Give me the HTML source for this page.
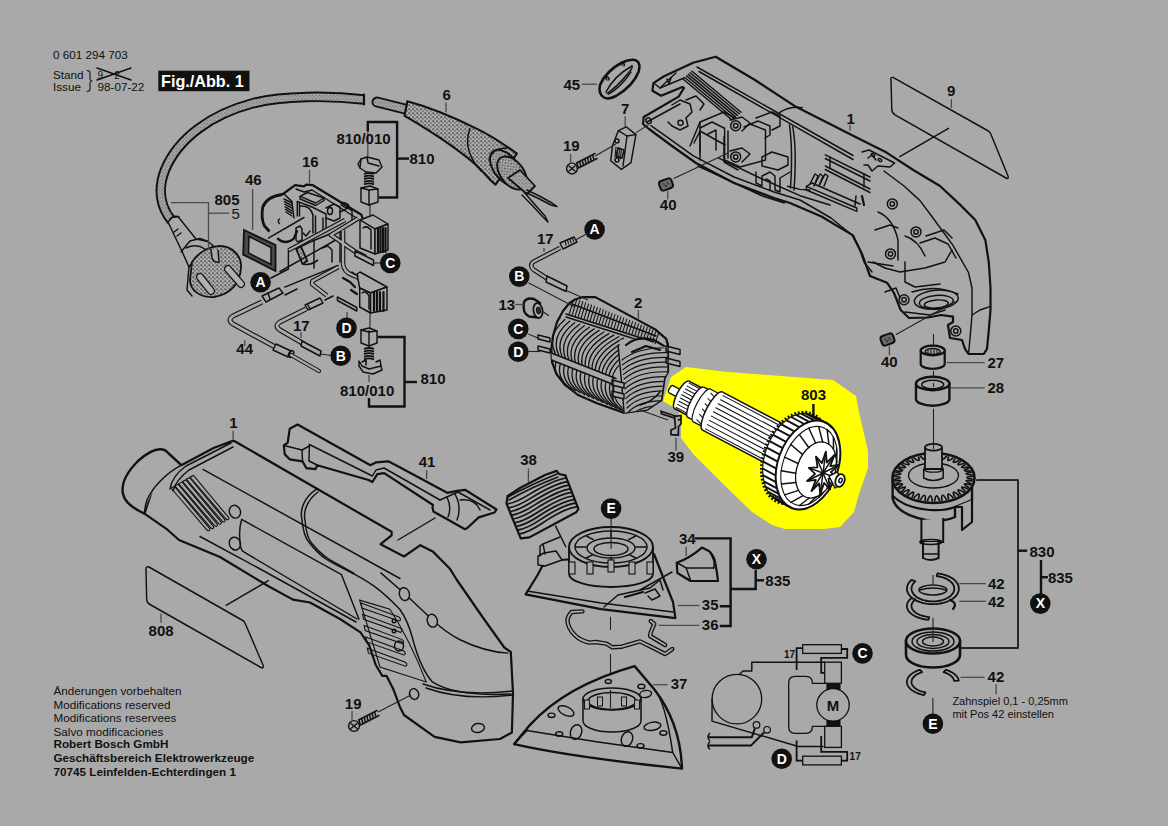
<!DOCTYPE html>
<html><head><meta charset="utf-8">
<style>
html,body{margin:0;padding:0;background:#a9a9a9;}
body{width:1168px;height:826px;overflow:hidden;}
svg{display:block;}
text{font-family:"Liberation Sans",sans-serif;fill:#111;}
.b{font-weight:bold;font-size:15px;}
.r{font-size:11.7px;}
.rb{font-size:11.7px;font-weight:bold;}
.o{fill:none;stroke:#111;stroke-width:1.45;stroke-linejoin:round;stroke-linecap:round;}
.th{fill:none;stroke:#111;stroke-width:1.05;stroke-linejoin:round;stroke-linecap:round;}
.t{fill:none;stroke:#111;stroke-width:2.2;stroke-linejoin:round;stroke-linecap:round;}
.f{fill:#a9a9a9;stroke:#111;stroke-width:1.45;stroke-linejoin:round;}
.ft{fill:#a9a9a9;stroke:#111;stroke-width:2.2;stroke-linejoin:round;}
.l{fill:none;stroke:#222;stroke-width:1.1;}
.lg{fill:none;stroke:#4a4a4a;stroke-width:1.3;}
.br{fill:none;stroke:#111;stroke-width:2.4;}
.cw{font-weight:bold;font-size:14px;fill:#fff;text-anchor:middle;}
</style></head>
<body>
<svg width="1168" height="826" viewBox="0 0 1168 826">
<defs>
<pattern id="dots" width="3.5" height="3.5" patternUnits="userSpaceOnUse"><rect width="3.5" height="3.5" fill="#a9a9a9"/><rect x="0.5" y="0.5" width="1" height="1" fill="#333"/><rect x="2.2" y="2.1" width="0.9" height="0.9" fill="#444"/></pattern>
<pattern id="dots2" width="4" height="4" patternUnits="userSpaceOnUse"><rect width="4" height="4" fill="#a9a9a9"/><rect x="0.5" y="0.5" width="1.3" height="1.3" fill="#222"/><rect x="2.5" y="2.4" width="1.1" height="1.1" fill="#333"/></pattern>
</defs>
<rect width="1168" height="826" fill="#a9a9a9"/>
<polygon class="x" points="686.0,367.0 728.0,372.0 781.0,376.0 833.0,380.0 856.0,396.0 859.0,412.0 868.0,451.0 868.0,468.0 859.0,494.0 854.0,512.0 840.0,527.0 824.0,529.0 785.0,529.0 772.0,525.0 752.0,512.0 720.0,481.0 694.0,455.0 681.0,438.0 681.0,420.0 678.0,410.0 663.0,401.0 671.0,377.0" fill="#ffff00" stroke="none"/>
<text class="r" x="53" y="58.5" >0 601 294 703</text>
<text class="r" x="53" y="78.6" >Stand</text>
<text class="r" x="53" y="91" >Issue</text>
<text class="r" x="97.5" y="91" >98-07-22</text>
<path class="o" d="M87,70.5 Q90,70.5 90,73 L90,79 Q90,80.5 92,81 Q90,81.5 90,83 L90,89 Q90,91.5 87,91.5" style="stroke-width:1.1"/>
<text class="r" x="97.5" y="79" style="font-size:10px">9&#160;&#160;&#160;&#160;2</text>
<line class="o" x1="97" y1="68" x2="131" y2="80"/>
<line class="o" x1="97" y1="80" x2="131" y2="68"/>
<rect x="158.3" y="70.7" width="91.2" height="20.5" fill="#111"/>
<text class="b" x="161" y="86.5" style="font-size:16.2px;fill:#fff">Fig./Abb. 1</text>
<text class="r" x="53.5" y="695" >Änderungen vorbehalten</text>
<text class="r" x="53.5" y="708.7" >Modifications reserved</text>
<text class="r" x="53.5" y="722.4" >Modifications reservees</text>
<text class="r" x="53.5" y="736.3" >Salvo modificaciones</text>
<text class="rb" x="53.5" y="748.2" >Robert Bosch GmbH</text>
<text class="rb" x="53.5" y="761.9" >Geschäftsbereich Elektrowerkzeuge</text>
<text class="rb" x="53.5" y="775.5" >70745 Leinfelden-Echterdingen 1</text>
<path class="x" d="M364,99.5 C330,95.5 282,95.5 252,103.5 C212,114 178,138 165,170 C157,190 161,208 172,221" fill="none" stroke="#111" stroke-width="10.5" stroke-linecap="butt"/>
<path class="x" d="M364,99.5 C330,95.5 282,95.5 252,103.5 C212,114 178,138 165,170 C157,190 161,208 172,221" fill="none" stroke="url(#dots)" stroke-width="6.6" stroke-linecap="butt"/>
<line class="t" x1="364" y1="94.5" x2="364" y2="104.5"/>
<path class="x" d="M377,102 L405,109" fill="none" stroke="#111" stroke-width="11" stroke-linecap="round"/>
<path class="x" d="M377,102 L405,109" fill="none" stroke="url(#dots)" stroke-width="7" stroke-linecap="round"/>
<path d="M407.4,101.3 C425,106 447,114 476,128.4 C488,134 505,145 516.9,153.6 L495.6,184.6 C490,181 484,172 476.2,165.2 C465,155 452,146 437.5,136.2 C425,128 414,121 404.5,115.8 Z" fill="url(#dots2)" stroke="#111" stroke-width="2" stroke-linejoin="round"/>
<line class="o" x1="407.4" y1="101.3" x2="404.5" y2="115.8"/>
<path class="o" d="M470,128.5 Q462,150 481,171" />
<ellipse class="x" cx="506" cy="168" rx="12" ry="21" transform="rotate(-38 506 168)" fill="url(#dots2)" stroke="#111" stroke-width="2"/>
<path class="o" d="M489,160 Q492,148 507,148" />
<ellipse class="x" cx="512" cy="173" rx="11.5" ry="19" transform="rotate(-38 512 173)" fill="url(#dots2)" stroke="#111" stroke-width="2"/>
<path d="M508,178 L520,170 L535,186 L527,194 Z" fill="url(#dots)" stroke="#111" stroke-width="1.8" stroke-linejoin="round"/>
<path class="o" d="M527,190 Q540,196 552,203 L557,206.5 L551,205 Q538,198 527,193" />
<path class="o" d="M524,192 Q535,205 545,216 L548,222 L543,217 Q532,205 522,195" />
<line class="lg" x1="446" y1="102.5" x2="446" y2="112.5"/>
<text class="b" x="442.5" y="99.7" >6</text>
<polygon class="f" points="172.0,217.5 178.0,216.5 196.0,239.0 208.0,241.5 213.5,246.0 192.5,262.0 189.0,267.0 182.5,252.5 168.0,222.0" />
<path class="o" d="M170,219 Q174,215 179,217" />
<line class="o" x1="174" y1="232" x2="178" y2="229"/>
<line class="o" x1="177" y1="236" x2="181" y2="233"/>
<path class="o" d="M181,252 L190,241 L200,238.5 L208,241.5" />
<path class="o" d="M186,248 Q196,243 205,249" />
<path class="x" d="M192,262 C200,250 212,246 220,246 C232,246 242,256 241,268 C240,282 232,294 214,297 C200,298 190,290 190,280 Z" fill="url(#dots2)" stroke="#111" stroke-width="1.8"/>
<path class="o" d="M189,266 L187,290 L192,296" />
<line x1="200" y1="277" x2="211" y2="291" stroke="#111" stroke-width="8" stroke-linecap="round"/>
<line x1="200" y1="277" x2="211" y2="291" stroke="#b0b0b0" stroke-width="5.6" stroke-linecap="round"/>
<line x1="228" y1="269" x2="241" y2="284" stroke="#111" stroke-width="8" stroke-linecap="round"/>
<line x1="228" y1="269" x2="241" y2="284" stroke="#b0b0b0" stroke-width="5.6" stroke-linecap="round"/>
<path class="f" d="M211,249 L212,258 Q214,263 219,262 L218,250" />
<polyline class="lg" points="171.0,202.6 208.5,202.6 208.5,250.0" />
<line class="lg" x1="208.5" y1="213.2" x2="229" y2="213.2"/>
<text class="b" x="214.5" y="205.3" >805</text>
<text class="b" x="231.5" y="219" style="font-weight:normal">5</text>
<polygon class="x" points="244.0,230.0 275.5,245.0 275.5,271.0 243.2,254.6" fill="#4a4a4a" stroke="#111" stroke-width="1.8"/>
<polygon class="x" points="249.0,236.5 271.0,247.5 271.0,264.5 248.5,253.0" fill="#a9a9a9" stroke="#111" stroke-width="1.5"/>
<line class="lg" x1="252.6" y1="189" x2="252.6" y2="230"/>
<text class="b" x="245" y="185" >46</text>
<path d="M285,192.5 L295.1,185.2 L304,186.4 L306.2,184.7 L312.9,185.2 L361.4,214.8 L362.5,218 L356,252 L340,262 L314,268 L300,262 L296,246 L280,236 L269.5,231.5 C264,222 262,214 262.8,207 C264,201 270,196 280.6,194.7 Z" fill="#a9a9a9" stroke="none"/>
<path d="M282,194.5 C272,196 265,201 262.8,207 C261.5,214 262,221 264.5,226 L269.5,231.5" fill="none" stroke="#111" stroke-width="2.8"/>
<path class="o" d="M284,194 L291.8,201.4 L294,218" />
<line class="o" x1="284.0" y1="199.0" x2="292" y2="203.0"/>
<line class="o" x1="284.4" y1="201.6" x2="292" y2="205.6"/>
<line class="o" x1="284.8" y1="204.2" x2="292" y2="208.2"/>
<line class="o" x1="285.2" y1="206.8" x2="292" y2="210.8"/>
<line class="o" x1="285.6" y1="209.4" x2="292" y2="213.4"/>
<line class="o" x1="286.0" y1="212.0" x2="292" y2="216.0"/>
<path class="o" d="M279.5,219 Q277,221 279.5,223.5" />
<path class="t" d="M282,194.5 L285,192.5 L295.1,185.2 L304,186.4 L306.2,184.7 L312.9,185.2 L361.4,214.8 L362.5,218" />
<path class="o" d="M296,189 L304,192 L312,190 L358,219" />
<polygon class="f" points="300.1,196.4 307.3,192.5 324.0,198.0 315.7,203.0" />
<polyline class="o" points="300.1,196.4 300.1,199.0 315.7,205.5 324.0,200.5 324.0,198.0" />
<polyline class="o" points="297.3,201.4 297.3,216.0" />
<polyline class="o" points="299.5,202.5 299.5,216.0" />
<polyline class="o" points="297.3,201.4 312.0,207.0 326.0,214.0 326.0,232.0" />
<polyline class="o" points="312.9,214.8 312.9,233.0" />
<polyline class="o" points="315.5,216.0 315.5,233.0" />
<polyline class="o" points="323.0,218.0 323.0,232.0" />
<path class="o" d="M300,206 Q310,205 312.9,214.8" />
<polyline class="o" points="326.0,208.0 334.0,204.0 340.0,207.0 340.0,218.0 334.0,221.0 326.0,218.0" />
<ellipse class="o" cx="330" cy="211" rx="2.5" ry="3.5" transform="rotate(0 330 211)" />
<polyline class="o" points="340.0,212.0 348.0,208.0 352.0,211.0 352.0,224.0" />
<ellipse class="o" cx="345" cy="205" rx="4" ry="2" transform="rotate(25 345 205)" />
<line class="o" x1="268.4" y1="238.1" x2="304" y2="217.5"/>
<path d="M277.3,238.1 Q281,242 286.2,242 Q292,241 294,238.1 L297.3,230.3" fill="none" stroke="#111" stroke-width="2.4"/>
<polyline class="o" points="296.0,228.0 300.0,226.0 302.0,229.0 302.0,240.0 298.0,242.0 296.0,240.0 296.0,228.0" />
<polyline class="o" points="303.0,233.0 306.0,236.0 310.0,231.0" />
<polyline class="o" points="302.0,246.0 310.0,242.0 330.0,234.0 340.0,232.0 340.0,262.0" />
<polyline class="o" points="314.0,240.0 314.0,268.0" />
<polyline class="o" points="322.0,248.0 328.0,246.0 332.0,250.0 332.0,262.0" />
<polygon class="x" points="296.2,249.0 301.0,246.5 307.3,261.0 302.5,264.0" fill="url(#dots2)" stroke="#111" stroke-width="1.8"/>
<path d="M303,264 Q310,266 318,260" fill="none" stroke="#111" stroke-width="1.6"/>
<path d="M345,220 L288.4,250.4" fill="none" stroke="#111" stroke-width="4.4"/>
<path d="M345,220 L288.4,250.4" fill="none" stroke="#a9a9a9" stroke-width="2.2"/>
<polyline class="o" points="288.4,250.4 288.4,269.0 271.0,278.0" />
<line class="o" x1="280" y1="271.5" x2="335.7" y2="240"/>
<line class="o" x1="284.8" y1="287.2" x2="338.1" y2="265.4"/>
<path d="M358,218.5 L331,235 L355,251.5 L366,257" fill="none" stroke="#111" stroke-width="4.6" stroke-linejoin="round"/>
<path d="M343,230 L343,264 Q344,272 352,275 L359,278" fill="none" stroke="#111" stroke-width="4.6"/>
<path d="M338.4,267 L312.5,281 L312,284 L326.8,295.5" fill="none" stroke="#111" stroke-width="4.6" stroke-linejoin="round"/>
<path d="M358,218.5 L331,235 L355,251.5 L366,257" fill="none" stroke="#a9a9a9" stroke-width="2.4" stroke-linejoin="round"/>
<path d="M343,230 L343,264 Q344,272 352,275 L359,278" fill="none" stroke="#a9a9a9" stroke-width="2.4"/>
<path d="M338.4,267 L312.5,281 L312,284 L326.8,295.5" fill="none" stroke="#a9a9a9" stroke-width="2.4" stroke-linejoin="round"/>
<polygon class="f" points="355.0,251.0 373.5,260.0 373.5,265.5 355.0,256.0" />
<line class="l" x1="373.5" y1="263" x2="380" y2="263"/>
<polygon class="f" points="337.4,297.0 356.8,307.5 356.8,311.0 337.4,300.5" />
<line class="lg" x1="347" y1="312" x2="347" y2="318"/>
<polygon class="f" points="360.0,220.0 373.0,215.0 388.0,224.0 375.0,229.0" />
<polygon class="f" points="360.0,220.0 375.0,229.0 375.0,254.0 360.0,248.0" />
<polygon class="f" points="375.0,229.0 388.0,224.0 388.0,250.0 375.0,254.0" />
<line class="t" x1="378" y1="228" x2="378" y2="252"/>
<line class="t" x1="380.5" y1="228" x2="380.5" y2="252"/>
<line class="t" x1="383" y1="228" x2="383" y2="252"/>
<line class="t" x1="385.5" y1="228" x2="385.5" y2="252"/>
<path class="o" d="M363,228 Q367,225 371,230 L371,249" />
<polygon class="f" points="357.0,274.0 360.0,272.0 387.0,287.0 370.5,293.0 359.7,288.0" />
<polygon class="f" points="359.7,288.0 370.5,293.0 370.5,313.0 359.7,307.0" />
<polygon class="f" points="370.5,293.0 387.0,287.0 387.0,310.0 370.5,313.0" />
<line class="t" x1="374" y1="292" x2="374" y2="311"/>
<line class="t" x1="377" y1="292" x2="377" y2="311"/>
<line class="t" x1="380" y1="292" x2="380" y2="311"/>
<line class="t" x1="383.5" y1="292" x2="383.5" y2="311"/>
<path class="o" d="M362,293 Q366,290 369,296 L369,309" />
<polyline class="t" points="343.0,278.0 350.0,282.0 355.0,287.0" />
<polyline class="o" points="352.0,272.0 358.0,276.0" />
<line class="t" x1="351" y1="290" x2="357" y2="294"/>
<path class="f" d="M358,164 L361,159 L367,157 L379,160 L382,167 L376,173 L366,172 L360,168 Z" />
<polyline class="o" points="361.0,159.0 360.0,168.0" />
<polyline class="o" points="367.0,157.0 368.0,163.0 379.0,166.0" />
<path class="x" d="M364,174.0 Q369,172.0 374,174.0" fill="none" stroke="#111" stroke-width="1.8"/>
<path class="x" d="M364,176.6 Q369,174.6 374,176.6" fill="none" stroke="#111" stroke-width="1.8"/>
<path class="x" d="M364,179.2 Q369,177.2 374,179.2" fill="none" stroke="#111" stroke-width="1.8"/>
<path class="x" d="M364,181.8 Q369,179.8 374,181.8" fill="none" stroke="#111" stroke-width="1.8"/>
<path class="x" d="M364,184.4 Q369,182.4 374,184.4" fill="none" stroke="#111" stroke-width="1.8"/>
<polygon class="f" points="361.0,188.0 370.0,186.0 378.0,189.0 378.0,202.0 369.0,205.0 361.0,202.0" />
<line class="o" x1="369" y1="190" x2="369" y2="205"/>
<polyline class="o" points="361.0,188.0 369.0,190.0 378.0,189.0" />
<line class="l" x1="370" y1="205" x2="370" y2="217"/>
<line class="lg" x1="367.8" y1="131.5" x2="367.8" y2="156"/>
<polyline class="br" points="367.8,131.5 367.8,122.0 397.1,122.0 397.1,197.5 379.0,197.5" />
<line class="br" x1="397.1" y1="158.6" x2="409" y2="158.6"/>
<text class="b" x="336.4" y="144.3" >810/010</text>
<text class="b" x="409.5" y="164.4" >810</text>
<line class="lg" x1="309.5" y1="170" x2="309.5" y2="183.5"/>
<text class="b" x="302" y="167.2" >16</text>
<polygon class="f" points="361.0,330.0 369.0,328.0 377.0,331.0 377.0,343.0 369.0,346.0 361.0,343.0" />
<line class="o" x1="369" y1="331" x2="369" y2="346"/>
<polyline class="o" points="361.0,330.0 369.0,332.0 377.0,331.0" />
<line class="l" x1="370" y1="313" x2="370" y2="328"/>
<path class="x" d="M364,349.0 Q369,347.0 374,349.0" fill="none" stroke="#111" stroke-width="1.8"/>
<path class="x" d="M364,351.6 Q369,349.6 374,351.6" fill="none" stroke="#111" stroke-width="1.8"/>
<path class="x" d="M364,354.2 Q369,352.2 374,354.2" fill="none" stroke="#111" stroke-width="1.8"/>
<path class="x" d="M364,356.8 Q369,354.8 374,356.8" fill="none" stroke="#111" stroke-width="1.8"/>
<path class="x" d="M364,359.4 Q369,357.4 374,359.4" fill="none" stroke="#111" stroke-width="1.8"/>
<path class="f" d="M359,361 L362,366 L369,369 L381,366 L382,370 L373,374 L363,372 L359,366 Z" />
<polyline class="o" points="362.0,362.0 366.0,360.0 366.0,365.0" />
<polyline class="o" points="376.0,362.0 380.0,360.0 381.0,366.0" />
<line class="lg" x1="369" y1="375" x2="369" y2="382"/>
<polyline class="br" points="378.0,337.0 404.5,337.0 404.5,406.5 369.0,406.5 369.0,398.0" />
<line class="br" x1="404.5" y1="382" x2="417" y2="382"/>
<text class="b" x="420.5" y="383.5" >810</text>
<text class="b" x="340" y="396.2" >810/010</text>
<path d="M262,302 L233,316 Q227,320 233,324 L277,348" fill="none" stroke="#111" stroke-width="5" stroke-linejoin="round"/>
<path d="M306,309 L280,322 Q274,326 280,330 L304,344" fill="none" stroke="#111" stroke-width="5" stroke-linejoin="round"/>
<path d="M262,302 L233,316 Q227,320 233,324 L277,348" fill="none" stroke="#a9a9a9" stroke-width="2.8" stroke-linejoin="round"/>
<path d="M306,309 L280,322 Q274,326 280,330 L304,344" fill="none" stroke="#a9a9a9" stroke-width="2.8" stroke-linejoin="round"/>
<polygon class="f" points="262.0,296.0 279.0,288.0 283.0,293.0 266.0,302.0" />
<line class="o" x1="268" y1="293" x2="270" y2="299"/>
<polygon class="f" points="276.0,344.0 291.0,351.0 288.0,357.0 273.0,350.0" />
<ellipse class="o" cx="291" cy="354" rx="2.2" ry="3.6" transform="rotate(30 291 354)" />
<path d="M291,355 L319,371" fill="none" stroke="#111" stroke-width="4.2" stroke-linecap="round"/><path d="M291,355 L319,371" fill="none" stroke="#a9a9a9" stroke-width="2.2" stroke-linecap="round"/>
<polygon class="f" points="305.0,305.0 320.0,298.0 323.0,303.0 308.0,310.0" />
<line class="o" x1="308" y1="305" x2="310" y2="309"/>
<polygon class="f" points="302.0,341.0 321.0,351.0 320.0,356.0 301.0,346.0" />
<line class="l" x1="321" y1="354" x2="331" y2="355.5"/>
<line class="lg" x1="244.8" y1="340" x2="244.8" y2="346"/>
<text class="b" x="236.3" y="354" >44</text>
<line class="lg" x1="301" y1="332" x2="301" y2="338"/>
<text class="b" x="293" y="330.8" >17</text>
<line class="o" x1="285" y1="295" x2="297" y2="289"/>
<line class="o" x1="325" y1="300" x2="333" y2="296"/>
<circle cx="260.6" cy="282.3" r="10.3" fill="#111"/>
<text class="cw" x="260.6" y="287.1">A</text>
<circle cx="390.3" cy="263" r="10.3" fill="#111"/>
<text class="cw" x="390.3" y="267.8">C</text>
<circle cx="346.5" cy="327.9" r="10.3" fill="#111"/>
<text class="cw" x="346.5" y="332.7">D</text>
<circle cx="340.7" cy="355.7" r="10.3" fill="#111"/>
<text class="cw" x="340.7" y="360.5">B</text>
<polygon class="ft" points="653.4,83.1 664.0,76.3 678.6,69.5 693.1,62.7 715.7,56.7 755.0,80.0 796.0,106.8 860.0,139.3 886.6,152.6 913.3,170.0 940.0,186.0 960.0,204.6 975.3,220.0 985.4,240.3 988.8,262.4 990.5,287.8 990.5,309.8 988.8,330.2 987.0,348.8 983.7,354.0 968.5,354.0 965.0,348.8 962.0,340.0 950.0,338.0 948.0,325.0 953.0,322.0 953.0,316.6 941.0,315.0 928.0,317.5 909.0,318.0 900.7,310.0 894.0,293.0 887.0,282.7 870.0,276.0 862.0,254.0 853.0,235.4 821.5,216.5 790.0,203.0 774.0,198.0 734.0,183.0 696.0,163.0 672.0,146.0 649.0,129.0 643.0,124.0 643.7,117.0 678.6,96.6 684.0,88.0 682.4,87.0 661.1,95.7 652.4,90.8" />
<polyline class="o" points="697.0,67.0 853.0,155.5" />
<polyline class="o" points="884.0,171.0 904.0,186.0 920.0,200.6 933.0,218.0 953.0,245.4 968.5,272.5 972.0,288.0 972.0,315.0 970.0,338.6 968.5,354.0" />
<polyline class="o" points="972.0,315.0 980.0,310.0 990.5,306.4" />
<polyline class="o" points="699.0,71.5 853.0,159.5" />
<polyline class="o" points="862.0,152.0 869.0,150.0 894.6,163.0 890.0,167.0 878.0,166.0 872.0,171.0 868.0,165.0 864.0,165.0" />
<polyline class="o" points="868.0,158.0 872.0,155.0 876.0,160.0" />
<ellipse class="o" cx="873" cy="155" rx="2" ry="1.2" transform="rotate(30 873 155)" />
<ellipse class="o" cx="880" cy="160" rx="2" ry="1.2" transform="rotate(30 880 160)" />
<polyline class="o" points="651.0,125.7 693.4,155.8 734.0,177.0 774.0,192.0 800.0,200.0 831.0,218.0 852.0,235.0 860.0,250.0 864.0,262.0 872.0,272.0" />
<path class="o" d="M779.6,112.4 Q790,106 802.3,107.6" />
<path class="o" d="M792.7,126.7 Q797,150 794,190" />
<path class="o" d="M789.5,125 Q793,150 790.5,188" />
<polyline class="o" points="655.0,84.0 660.0,88.0 684.0,78.0" />
<path class="o" d="M660,88 Q668,80 676,73" />
<polyline class="o" points="667.0,79.0 669.0,84.0 671.0,78.0" />
<polyline class="o" points="647.0,122.0 680.0,104.0" />
<ellipse class="o" cx="648.6" cy="120.8" rx="2.5" ry="3" transform="rotate(-30 648.6 120.8)" />
<polyline class="o" points="672.0,105.0 680.0,100.0 690.0,104.0 692.0,112.0 686.0,118.0 688.0,126.0 680.0,130.0 672.0,126.0 668.0,122.0" />
<ellipse class="o" cx="680.5" cy="122.8" rx="2.6" ry="2.6" transform="rotate(0 680.5 122.8)" />
<polyline class="o" points="686.0,100.0 696.0,96.0 704.0,104.0 700.0,110.0" />
<line class="o" x1="683.0" y1="79.0" x2="732.0" y2="120.0"/>
<line class="o" x1="684.8" y1="77.44" x2="733.8" y2="118.44"/>
<line class="o" x1="686.6" y1="75.88" x2="735.6" y2="116.88"/>
<line class="o" x1="688.4" y1="74.32" x2="737.4" y2="115.32"/>
<line class="o" x1="690.2" y1="72.76" x2="739.2" y2="113.76"/>
<line class="o" x1="692.0" y1="71.2" x2="741.0" y2="112.2"/>
<ellipse class="f" cx="735.7" cy="125.7" rx="5" ry="5" transform="rotate(0 735.7 125.7)" />
<ellipse class="o" cx="735.7" cy="125.7" rx="2.2" ry="2.2" transform="rotate(0 735.7 125.7)" />
<ellipse class="f" cx="735.7" cy="156.9" rx="5" ry="5" transform="rotate(0 735.7 156.9)" />
<ellipse class="o" cx="735.7" cy="156.9" rx="2.2" ry="2.2" transform="rotate(0 735.7 156.9)" />
<ellipse class="f" cx="892.3" cy="203.9" rx="5" ry="5" transform="rotate(0 892.3 203.9)" />
<ellipse class="o" cx="892.3" cy="203.9" rx="2.2" ry="2.2" transform="rotate(0 892.3 203.9)" />
<ellipse class="f" cx="916" cy="231.9" rx="5" ry="5" transform="rotate(0 916 231.9)" />
<ellipse class="o" cx="916" cy="231.9" rx="2.2" ry="2.2" transform="rotate(0 916 231.9)" />
<ellipse class="f" cx="890.5" cy="253.9" rx="5" ry="5" transform="rotate(0 890.5 253.9)" />
<ellipse class="o" cx="890.5" cy="253.9" rx="2.2" ry="2.2" transform="rotate(0 890.5 253.9)" />
<ellipse class="f" cx="904" cy="299.7" rx="5" ry="5" transform="rotate(0 904 299.7)" />
<ellipse class="o" cx="904" cy="299.7" rx="2.2" ry="2.2" transform="rotate(0 904 299.7)" />
<ellipse class="f" cx="955.8" cy="331" rx="5" ry="5" transform="rotate(0 955.8 331)" />
<ellipse class="o" cx="955.8" cy="331" rx="2.2" ry="2.2" transform="rotate(0 955.8 331)" />
<polyline class="o" points="730.0,120.0 742.0,117.0 750.0,123.0 742.0,131.0" />
<polyline class="o" points="730.0,151.0 742.0,148.0 750.0,154.0 742.0,162.0" />
<polyline class="o" points="690.0,146.0 700.0,122.0 724.0,112.0 735.0,118.0" />
<polyline class="o" points="700.0,122.0 700.0,153.0" />
<polyline class="o" points="724.0,137.0 724.0,162.0 738.0,170.0" />
<polyline class="o" points="708.0,134.0 716.0,130.0 716.0,150.0" />
<polyline class="o" points="724.6,128.0 724.6,160.0 740.0,167.0 765.5,160.0 765.5,130.0 750.0,124.0" />
<polyline class="o" points="728.0,131.0 728.0,158.0" />
<polyline class="o" points="744.0,127.0 758.0,121.0 770.0,126.0 770.0,135.0 765.0,138.0" />
<polyline class="o" points="756.0,118.0 772.0,112.0 780.0,116.0 780.0,126.0 772.0,130.0" />
<polyline class="o" points="762.0,157.0 772.0,152.0 788.0,157.0 788.0,165.0 778.0,170.0 762.0,166.0 762.0,157.0" />
<polyline class="o" points="756.0,172.0 756.0,183.0 762.0,186.0 762.0,176.0 770.0,172.0 775.0,176.0 775.0,190.0 780.0,192.0 780.0,178.0 790.0,172.0" />
<polyline class="o" points="766.0,179.0 770.0,181.0 770.0,190.0" />
<polyline class="o" points="700.0,128.0 712.0,122.0 724.0,128.0" />
<polyline class="o" points="694.0,143.0 700.0,131.0 700.0,160.0" />
<polyline class="o" points="700.0,131.0 725.0,145.0" />
<polyline class="o" points="718.3,157.9 760.0,178.0 800.0,195.7 830.0,205.0" />
<polyline class="o" points="697.9,166.0 762.4,196.0 784.4,203.0" />
<polyline class="o" points="787.5,186.3 800.0,189.4 810.0,190.0" />
<polyline class="o" points="825.3,154.8 870.0,177.0" />
<polyline class="o" points="825.3,158.5 870.0,181.0" />
<polyline class="o" points="825.3,166.0 870.0,189.0" />
<polyline class="o" points="825.3,169.5 870.0,192.5" />
<line class="o" x1="830" y1="157" x2="830" y2="168"/>
<line class="o" x1="864" y1="174" x2="864" y2="187"/>
<polyline class="o" points="806.4,186.3 856.8,208.0 856.8,211.4 806.4,190.0" />
<polyline class="o" points="806.4,190.0 806.4,186.3 812.0,183.0 860.0,204.0" />
<polyline class="o" points="810.0,184.0 815.0,174.0 818.0,176.0 814.0,186.0" />
<polyline class="o" points="815.0,184.0 820.0,174.0 823.0,176.0 819.0,186.0" />
<polyline class="o" points="820.0,184.0 825.0,174.0 828.0,176.0 824.0,186.0" />
<path class="t" d="M862,196 L864,205" />
<path class="o" d="M856,196 L855,206" />
<path class="o" d="M878,212 Q893,218 898,240 L898,260" />
<path class="o" d="M905,236 Q918,240 925,256" />
<polyline class="o" points="873.0,262.0 885.0,268.0 900.0,272.0 925.0,268.0 945.0,262.0 952.0,250.0" />
<polyline class="o" points="905.0,262.0 905.0,282.0 915.0,287.0 940.0,284.0" />
<polyline class="o" points="920.0,243.0 935.0,238.0 948.0,244.0 956.0,258.0" />
<polyline class="o" points="926.0,236.0 944.0,230.0 952.0,238.0" />
<polyline class="o" points="875.0,230.0 890.0,225.0 898.0,228.0" />
<path class="o" d="M912,292 Q935,284 958,294" />
<ellipse class="o" cx="936.3" cy="299.7" rx="22" ry="9.5" transform="rotate(-5 936.3 299.7)" />
<ellipse class="o" cx="936.3" cy="302" rx="17" ry="6.5" transform="rotate(-5 936.3 302)" />
<ellipse class="o" cx="936.3" cy="304" rx="12" ry="4" transform="rotate(-5 936.3 304)" />
<polyline class="o" points="905.0,312.0 930.0,315.0 945.0,310.0" />
<polyline class="o" points="885.0,292.0 896.0,288.0 900.0,298.0" />
<line class="o" x1="868" y1="262" x2="893" y2="266"/>
<line class="lg" x1="850" y1="124.7" x2="850" y2="130.8"/>
<text class="b" x="846.5" y="123.6" >1</text>
<path class="o" d="M893,77.4 Q890,77 891,80 L891.8,110 Q892,113 895,114.8 L1006,178 Q1009,179.5 1008,176 L991,134.5 Q990,131.5 987.5,130.5 Z" />
<line class="o" x1="899.8" y1="156.7" x2="948.5" y2="128.3"/>
<line class="lg" x1="951.4" y1="99.2" x2="951.4" y2="108"/>
<text class="b" x="947" y="95.6" >9</text>
<path d="M604,97.5 Q598,94 600,85 Q606,71 622,62.5 Q632,58 637,61 Q641,64 638.5,72 Q633,86 616,96 Q608,100 604,97.5 Z" fill="#a9a9a9" stroke="#111" stroke-width="2.6" stroke-linejoin="round"/>
<path class="o" d="M606,92 Q614,76 632,66" />
<path class="o" d="M607,93.5 Q618,86 630,71 Q633,67 632,66" />
<path class="o" d="M608.5,94 Q620,88 631,72" />
<path class="o" d="M607,80 Q605,78 607,77 Q609,77 609,80" />
<path class="o" d="M622,65 Q621,63 623,63 Q625,64 624,66" />
<line class="lg" x1="581.6" y1="84.2" x2="597" y2="84.2"/>
<text class="b" x="563.5" y="90.4" >45</text>
<polygon class="f" points="612.6,145.2 618.4,130.7 626.2,126.8 635.9,134.6 631.0,162.7 621.4,169.4 610.7,160.7" />
<polyline class="o" points="618.4,130.7 627.0,136.0 635.9,134.6" />
<polyline class="o" points="627.0,136.0 623.0,166.0" />
<ellipse class="o" cx="617" cy="141" rx="2" ry="2" transform="rotate(0 617 141)" />
<ellipse class="o" cx="617" cy="160" rx="2" ry="2" transform="rotate(0 617 160)" />
<path class="o" d="M618,148 L624,150 L622,158 L616,156 Z" />
<line class="th" x1="616.0" y1="147.0" x2="615.0" y2="157.0"/>
<line class="th" x1="617.8" y1="147.6" x2="616.8" y2="157.6"/>
<line class="th" x1="619.6" y1="148.2" x2="618.6" y2="158.2"/>
<line class="th" x1="621.4" y1="148.8" x2="620.4" y2="158.8"/>
<line class="lg" x1="625.2" y1="116.2" x2="625.2" y2="126.8"/>
<text class="b" x="621" y="113.9" >7</text>
<line class="l" x1="636" y1="132.6" x2="648.5" y2="124.9"/>
<line class="l" x1="595.2" y1="155.9" x2="616" y2="144"/>
<ellipse class="f" cx="572" cy="168.5" rx="5.4" ry="5.4" transform="rotate(0 572 168.5)" />
<line class="o" x1="569" y1="166" x2="575" y2="171"/>
<line class="o" x1="569" y1="171" x2="575" y2="166"/>
<line class="x" x1="577.0" y1="163.1" x2="578.3" y2="168.1"/>
<line x1="577.0" y1="163.0" x2="578.4" y2="168.2" stroke="#111" stroke-width="1.5"/>
<line class="x" x1="579.6" y1="161.72" x2="580.9" y2="166.72"/>
<line x1="579.6" y1="161.62" x2="581.0" y2="166.82" stroke="#111" stroke-width="1.5"/>
<line class="x" x1="582.2" y1="160.34" x2="583.5" y2="165.34"/>
<line x1="582.2" y1="160.24" x2="583.6" y2="165.44" stroke="#111" stroke-width="1.5"/>
<line class="x" x1="584.8" y1="158.96" x2="586.0999999999999" y2="163.96"/>
<line x1="584.8" y1="158.86" x2="586.1999999999999" y2="164.06" stroke="#111" stroke-width="1.5"/>
<line class="x" x1="587.4" y1="157.57999999999998" x2="588.6999999999999" y2="162.57999999999998"/>
<line x1="587.4" y1="157.48" x2="588.8" y2="162.67999999999998" stroke="#111" stroke-width="1.5"/>
<line class="x" x1="590.0" y1="156.2" x2="591.3" y2="161.2"/>
<line x1="590.0" y1="156.1" x2="591.4" y2="161.29999999999998" stroke="#111" stroke-width="1.5"/>
<line class="x" x1="592.6" y1="154.82" x2="593.9" y2="159.82"/>
<line x1="592.6" y1="154.72" x2="594.0" y2="159.92" stroke="#111" stroke-width="1.5"/>
<polyline class="o" points="576.5,163.0 595.0,153.5" />
<polyline class="o" points="578.5,168.0 597.0,158.5" />
<line class="lg" x1="570.6" y1="154" x2="570.6" y2="164"/>
<text class="b" x="563" y="150.7" >19</text>
<rect x="659.5" y="179.5" width="13" height="10" rx="3" fill="#6a6a6a" stroke="#111" stroke-width="2" transform="rotate(-20 666 184.5)"/>
<path d="M663,183.5 l2,2 M667,182.5 l2,2 M665,186.5 l2,-1" stroke="#111" stroke-width="1" fill="none"/>
<rect x="881.0" y="334.5" width="13" height="10" rx="3" fill="#6a6a6a" stroke="#111" stroke-width="2" transform="rotate(-20 887.5 339.5)"/>
<path d="M884.5,338.5 l2,2 M888.5,337.5 l2,2 M886.5,341.5 l2,-1" stroke="#111" stroke-width="1" fill="none"/>
<line class="l" x1="673.7" y1="178.5" x2="728" y2="153"/>
<line class="lg" x1="667.8" y1="190.7" x2="667.8" y2="199.5"/>
<text class="b" x="659.8" y="210.1" >40</text>
<line class="l" x1="895.7" y1="334.7" x2="955" y2="301.4"/>
<line class="lg" x1="889.4" y1="345.7" x2="889.4" y2="355.2"/>
<text class="b" x="881" y="366.5" >40</text>
<clipPath id="stc"><polygon points="575.0,299.5 583.0,297.0 595.4,297.1 655.2,329.4 666.2,338.8 668.0,346.0 668.0,372.0 664.6,378.2 661.5,400.2 647.3,409.6 623.7,412.8 597.0,403.3 578.0,395.0 565.0,385.0 556.5,374.0 552.0,362.0 551.3,350.0 553.0,336.0 557.0,322.0 563.0,311.0 569.0,303.5"/></clipPath>
<polygon class="ft" points="575.0,299.5 583.0,297.0 595.4,297.1 655.2,329.4 666.2,338.8 668.0,346.0 668.0,372.0 664.6,378.2 661.5,400.2 647.3,409.6 623.7,412.8 597.0,403.3 578.0,395.0 565.0,385.0 556.5,374.0 552.0,362.0 551.3,350.0 553.0,336.0 557.0,322.0 563.0,311.0 569.0,303.5" />
<g clip-path="url(#stc)">
<line class="th" x1="574.0" y1="298.0" x2="569.0" y2="315.0"/>
<line class="th" x1="576.9" y1="299.2" x2="572.0" y2="316.0"/>
<line class="th" x1="579.9" y1="300.3" x2="574.9" y2="317.0"/>
<line class="th" x1="582.8" y1="301.5" x2="577.9" y2="318.0"/>
<line class="th" x1="585.7" y1="302.7" x2="580.9" y2="319.0"/>
<line class="th" x1="588.7" y1="303.9" x2="583.8" y2="320.0"/>
<line class="th" x1="591.6" y1="305.0" x2="586.8" y2="321.0"/>
<line class="th" x1="594.5" y1="306.2" x2="589.8" y2="322.0"/>
<line class="th" x1="597.4" y1="307.4" x2="592.7" y2="323.0"/>
<line class="th" x1="600.4" y1="308.6" x2="595.7" y2="324.0"/>
<line class="th" x1="603.3" y1="309.7" x2="598.7" y2="325.0"/>
<line class="th" x1="606.2" y1="310.9" x2="601.6" y2="326.0"/>
<line class="th" x1="609.2" y1="312.1" x2="604.6" y2="327.0"/>
<line class="th" x1="612.1" y1="313.2" x2="607.6" y2="328.0"/>
<line class="th" x1="615.0" y1="314.4" x2="610.5" y2="329.0"/>
<line class="th" x1="618.0" y1="315.6" x2="613.5" y2="330.0"/>
<line class="th" x1="620.9" y1="316.8" x2="616.4" y2="331.0"/>
<line class="th" x1="623.8" y1="317.9" x2="619.4" y2="332.0"/>
<line class="th" x1="626.8" y1="319.1" x2="622.4" y2="333.0"/>
<line class="th" x1="629.7" y1="320.3" x2="625.3" y2="334.0"/>
<line class="th" x1="632.6" y1="321.4" x2="628.3" y2="335.0"/>
<line class="th" x1="635.6" y1="322.6" x2="631.3" y2="336.0"/>
<line class="th" x1="638.5" y1="323.8" x2="634.2" y2="337.0"/>
<line class="th" x1="641.4" y1="325.0" x2="637.2" y2="338.0"/>
<line class="th" x1="644.3" y1="326.1" x2="640.2" y2="339.0"/>
<line class="th" x1="647.3" y1="327.3" x2="643.1" y2="340.0"/>
<line class="th" x1="650.2" y1="328.5" x2="646.1" y2="341.0"/>
<line class="th" x1="653.1" y1="329.7" x2="649.1" y2="342.0"/>
<line class="th" x1="656.1" y1="330.8" x2="652.0" y2="343.0"/>
<line class="th" x1="659.0" y1="332.0" x2="655.0" y2="344.0"/>
<path d="M566,315.5 L653.6,343.5" stroke="#a9a9a9" stroke-width="3.2"/>
<polyline class="o" points="566.0,314.0 653.6,342.0" />
<polyline class="o" points="566.0,317.0 653.6,345.0" />
<polyline class="o" points="572.0,304.0 656.0,336.0" />
<path class="o" d="M560.0,318.0 Q542.0,334.0 552.0,352.0" style="stroke-width:1.3"/>
<path class="o" d="M564.9,319.6 Q546.1,335.4 555.3,353.4" style="stroke-width:1.3"/>
<path class="o" d="M569.8,321.1 Q550.2,336.9 558.7,354.9" style="stroke-width:1.3"/>
<path class="o" d="M574.7,322.7 Q554.3,338.3 562.0,356.3" style="stroke-width:1.3"/>
<path class="o" d="M579.6,324.2 Q558.4,339.8 565.3,357.8" style="stroke-width:1.3"/>
<path class="o" d="M584.4,325.8 Q562.6,341.2 568.7,359.2" style="stroke-width:1.3"/>
<path class="o" d="M589.3,327.3 Q566.7,342.7 572.0,360.7" style="stroke-width:1.3"/>
<path class="o" d="M594.2,328.9 Q570.8,344.1 575.3,362.1" style="stroke-width:1.3"/>
<path class="o" d="M599.1,330.4 Q574.9,345.6 578.7,363.6" style="stroke-width:1.3"/>
<path class="o" d="M604.0,332.0 Q579.0,347.0 582.0,365.0" style="stroke-width:1.3"/>
<path class="o" d="M608.9,333.6 Q583.1,348.4 585.3,366.4" style="stroke-width:1.3"/>
<path class="o" d="M613.8,335.1 Q587.2,349.9 588.7,367.9" style="stroke-width:1.3"/>
<path class="o" d="M618.7,336.7 Q591.3,351.3 592.0,369.3" style="stroke-width:1.3"/>
<path class="o" d="M623.6,338.2 Q595.4,352.8 595.3,370.8" style="stroke-width:1.3"/>
<path class="o" d="M628.4,339.8 Q599.6,354.2 598.7,372.2" style="stroke-width:1.3"/>
<path class="o" d="M633.3,341.3 Q603.7,355.7 602.0,373.7" style="stroke-width:1.3"/>
<path class="o" d="M638.2,342.9 Q607.8,357.1 605.3,375.1" style="stroke-width:1.3"/>
<path class="o" d="M643.1,344.4 Q611.9,358.6 608.7,376.6" style="stroke-width:1.3"/>
<path class="o" d="M648.0,346.0 Q616.0,360.0 612.0,378.0" style="stroke-width:1.3"/>
<path d="M550,356 L616,382" stroke="#a9a9a9" stroke-width="7"/>
<polyline class="o" points="550.0,352.5 616.0,378.5" />
<polyline class="o" points="550.0,359.5 616.0,385.5" />
<path class="o" d="M552.0,360.0 Q548.0,375.0 562.0,385.0" style="stroke-width:1.3"/>
<path class="o" d="M556.1,361.7 Q552.2,376.8 566.5,386.9" style="stroke-width:1.3"/>
<path class="o" d="M560.3,363.5 Q556.4,378.6 571.1,388.9" style="stroke-width:1.3"/>
<path class="o" d="M564.4,365.2 Q560.6,380.4 575.6,390.8" style="stroke-width:1.3"/>
<path class="o" d="M568.5,366.9 Q564.8,382.2 580.1,392.7" style="stroke-width:1.3"/>
<path class="o" d="M572.7,368.7 Q569.0,384.0 584.7,394.7" style="stroke-width:1.3"/>
<path class="o" d="M576.8,370.4 Q573.2,385.8 589.2,396.6" style="stroke-width:1.3"/>
<path class="o" d="M580.9,372.1 Q577.4,387.6 593.7,398.5" style="stroke-width:1.3"/>
<path class="o" d="M585.1,373.9 Q581.6,389.4 598.3,400.5" style="stroke-width:1.3"/>
<path class="o" d="M589.2,375.6 Q585.8,391.2 602.8,402.4" style="stroke-width:1.3"/>
<path class="o" d="M593.3,377.3 Q590.0,393.0 607.3,404.3" style="stroke-width:1.3"/>
<path class="o" d="M597.5,379.1 Q594.2,394.8 611.9,406.3" style="stroke-width:1.3"/>
<path class="o" d="M601.6,380.8 Q598.4,396.6 616.4,408.2" style="stroke-width:1.3"/>
<path class="o" d="M605.7,382.5 Q602.6,398.4 620.9,410.1" style="stroke-width:1.3"/>
<path class="o" d="M609.9,384.3 Q606.8,400.2 625.5,412.1" style="stroke-width:1.3"/>
<path class="o" d="M614.0,386.0 Q611.0,402.0 630.0,414.0" style="stroke-width:1.3"/>
</g>
<path d="M620,340 Q640,336 655,344 L668,350 L668,372 L664,378 L661,400 L647,409.6 L624,412.8 Q616,390 620,340 Z" fill="#a9a9a9" stroke="none"/>
<clipPath id="stc2"><path d="M620,340 Q640,336 655,344 L668,350 L668,372 L664,378 L661,400 L647,409.6 L624,412.8 Q616,390 620,340 Z"/></clipPath><g clip-path="url(#stc2)">
<path class="o" d="M622.0,360.0 Q640,346.0 672,348.0" style="stroke-width:1.2"/>
<path class="o" d="M622.5,364.8 Q640,350.8 672,352.8" style="stroke-width:1.2"/>
<path class="o" d="M623.0,369.6 Q640,355.6 672,357.6" style="stroke-width:1.2"/>
<path class="o" d="M623.5,374.4 Q640,360.4 672,362.4" style="stroke-width:1.2"/>
<path class="o" d="M624.0,379.2 Q640,365.2 672,367.2" style="stroke-width:1.2"/>
<path class="o" d="M624.5,384.0 Q640,370.0 672,372.0" style="stroke-width:1.2"/>
<path class="o" d="M625.0,388.8 Q640,374.8 672,376.8" style="stroke-width:1.2"/>
<path class="o" d="M625.5,393.6 Q640,379.6 672,381.6" style="stroke-width:1.2"/>
<path class="o" d="M626.0,398.4 Q640,384.4 672,386.4" style="stroke-width:1.2"/>
<path class="o" d="M626.5,403.2 Q640,389.2 672,391.2" style="stroke-width:1.2"/>
<path class="o" d="M627.0,408.0 Q640,394.0 672,396.0" style="stroke-width:1.2"/>
<path class="o" d="M627.5,412.8 Q640,398.8 672,400.8" style="stroke-width:1.2"/>
<path class="o" d="M628.0,417.6 Q640,403.6 672,405.6" style="stroke-width:1.2"/>
</g>
<path class="o" d="M618,345 Q622,385 624,412" />
<path class="t" d="M626,345 Q638,335 654,340 L664,346" />
<polyline class="t" points="632.0,352.0 646.0,346.0 660.0,350.0" />
<path class="o" d="M640,405 Q652,402 660,392" />
<polygon class="f" points="666.0,346.0 680.0,349.5 680.0,354.5 666.0,351.0" />
<polygon class="f" points="666.0,358.0 680.0,361.5 680.0,366.5 666.0,363.0" />
<line class="o" x1="668" y1="343" x2="668" y2="372"/>
<polygon class="f" points="612.0,380.0 624.0,383.0 624.0,388.0 612.0,385.0" />
<polygon class="f" points="612.0,391.0 624.0,394.0 624.0,399.0 612.0,396.0" />
<line class="o" x1="613" y1="377" x2="613" y2="400"/>
<polygon class="f" points="538.0,335.0 550.0,338.0 550.0,342.0 538.0,339.0" />
<polygon class="f" points="538.0,346.0 550.0,349.0 550.0,353.0 538.0,350.0" />
<line class="lg" x1="638.4" y1="310" x2="638.4" y2="319.6"/>
<text class="b" x="634" y="307.6" >2</text>
<path d="M524,302 Q527,297 534,299 L540,303 L538,317.5 L529,316.5 Q522,313 524,302 Z" fill="#a9a9a9" stroke="#111" stroke-width="2.4" stroke-linejoin="round"/>
<ellipse class="x" cx="538" cy="310.5" rx="4.5" ry="7.5" transform="rotate(-10 538 310.5)" fill="#a9a9a9" stroke="#111" stroke-width="1.8"/>
<ellipse class="x" cx="538.5" cy="310.5" rx="2" ry="3.2" transform="rotate(-10 538.5 310.5)" fill="#333" stroke="#111" stroke-width="1"/>
<line class="l" x1="543" y1="311.8" x2="549" y2="315.7"/>
<line class="lg" x1="514.9" y1="304.5" x2="523.6" y2="304.5"/>
<text class="b" x="498.5" y="309.5" >13</text>
<path d="M560,248 L533,262 Q529,266 534,270 L548,279" fill="none" stroke="#111" stroke-width="4.6" stroke-linejoin="round"/>
<path d="M560,248 L533,262 Q529,266 534,270 L548,279" fill="none" stroke="#a9a9a9" stroke-width="2.4" stroke-linejoin="round"/>
<polygon class="f" points="560.0,243.0 574.0,237.0 577.0,242.0 563.0,249.0" />
<line class="th" x1="565.0" y1="241.0" x2="566.0" y2="245.0"/>
<line class="th" x1="567.5" y1="239.9" x2="568.5" y2="243.9"/>
<line class="th" x1="570.0" y1="238.8" x2="571.0" y2="242.8"/>
<line class="th" x1="572.5" y1="237.7" x2="573.5" y2="241.7"/>
<polygon class="f" points="547.0,276.0 567.0,286.0 566.0,291.5 546.0,282.0" />
<line class="l" x1="575" y1="240.2" x2="585.5" y2="234.4"/>
<line class="lg" x1="544" y1="248" x2="544" y2="252"/>
<text class="b" x="537" y="244.4" >17</text>
<circle cx="594.6" cy="229.5" r="10.3" fill="#111"/>
<text class="cw" x="594.6" y="234.3">A</text>
<circle cx="519.3" cy="276.6" r="10.3" fill="#111"/>
<text class="cw" x="519.3" y="281.40000000000003">B</text>
<line class="l" x1="528.4" y1="282.8" x2="567" y2="303"/>
<line class="l" x1="567" y1="303" x2="575" y2="307"/>
<line class="l" x1="565" y1="290" x2="588" y2="300"/>
<circle cx="518.3" cy="328.9" r="10.3" fill="#111"/>
<text class="cw" x="518.3" y="333.7">C</text>
<circle cx="518.3" cy="351.7" r="10.3" fill="#111"/>
<text class="cw" x="518.3" y="356.5">D</text>
<line class="l" x1="528.4" y1="334" x2="540" y2="339"/>
<line class="l" x1="528.4" y1="351.5" x2="540" y2="351.5"/>
<ellipse cx="671.0" cy="389.2" rx="1.8" ry="4" transform="rotate(27.7 671.0 389.2)" fill="#ffffff" stroke="#111" stroke-width="1.3"/>
<polygon points="672.9,385.7 685.3,392.2 681.6,399.3 669.2,392.8" fill="#ffffff" stroke="none"/>
<line x1="672.9" y1="385.7" x2="685.3" y2="392.2" stroke="#111" stroke-width="1.3"/>
<line x1="669.2" y1="392.8" x2="681.6" y2="399.3" stroke="#111" stroke-width="1.3"/>
<ellipse cx="683.4" cy="395.8" rx="1.8" ry="4" transform="rotate(27.7 683.4 395.8)" fill="#ffffff" stroke="#111" stroke-width="1.3"/>
<ellipse cx="681.7" cy="394.8" rx="4.6" ry="15.5" transform="rotate(27.7 681.7 394.8)" fill="#ffffff" stroke="#111" stroke-width="1.5"/>
<polygon points="688.9,381.1 703.9,389.0 689.5,416.5 674.5,408.5" fill="#ffffff" stroke="none"/>
<line x1="688.9" y1="381.1" x2="703.9" y2="389.0" stroke="#111" stroke-width="1.5"/>
<line x1="674.5" y1="408.5" x2="689.5" y2="416.5" stroke="#111" stroke-width="1.5"/>
<line class="th" x1="689.1" y1="383.1" x2="703.1" y2="390.5"/>
<line class="th" x1="687.2" y1="386.1" x2="701.5" y2="393.6"/>
<line class="th" x1="685.4" y1="389.0" x2="699.9" y2="396.6"/>
<line class="th" x1="683.5" y1="391.9" x2="698.3" y2="399.7"/>
<line class="th" x1="681.7" y1="394.8" x2="696.7" y2="402.7"/>
<line class="th" x1="680.3" y1="398.0" x2="695.1" y2="405.8"/>
<line class="th" x1="679.0" y1="401.2" x2="693.5" y2="408.8"/>
<line class="th" x1="677.6" y1="404.4" x2="691.9" y2="411.9"/>
<line class="th" x1="676.2" y1="407.5" x2="690.3" y2="414.9"/>
<ellipse cx="695.8" cy="402.3" rx="5.1" ry="17" transform="rotate(27.7 695.8 402.3)" fill="#ffffff" stroke="#111" stroke-width="1.4"/>
<polygon points="703.7,387.2 710.8,390.9 695.0,421.0 687.9,417.3" fill="#ffffff" stroke="none"/>
<line x1="703.7" y1="387.2" x2="710.8" y2="390.9" stroke="#111" stroke-width="1.4"/>
<line x1="687.9" y1="417.3" x2="695.0" y2="421.0" stroke="#111" stroke-width="1.4"/>
<ellipse cx="702.0" cy="405.5" rx="5.5" ry="18.5" transform="rotate(27.7 702.0 405.5)" fill="#ffffff" stroke="#111" stroke-width="1.2"/>
<polygon points="710.6,389.2 722.1,395.2 704.9,427.9 693.4,421.9" fill="#ffffff" stroke="none"/>
<line x1="710.6" y1="389.2" x2="722.1" y2="395.2" stroke="#111" stroke-width="1.2"/>
<line x1="693.4" y1="421.9" x2="704.9" y2="427.9" stroke="#111" stroke-width="1.2"/>
<line class="th" x1="710.8" y1="393.2" x2="717.3" y2="400.0"/>
<line class="th" x1="708.0" y1="398.5" x2="714.5" y2="405.3"/>
<line class="th" x1="705.2" y1="403.8" x2="711.8" y2="410.6"/>
<line class="th" x1="702.4" y1="409.1" x2="709.0" y2="415.9"/>
<line class="th" x1="699.6" y1="414.4" x2="706.2" y2="421.3"/>
<line class="th" x1="696.8" y1="419.7" x2="703.4" y2="426.6"/>
<ellipse cx="712.6" cy="411.1" rx="6.5" ry="21.5" transform="rotate(27.7 712.6 411.1)" fill="#ffffff" stroke="#111" stroke-width="1.5"/>
<polygon points="722.6,392.1 790.8,427.9 770.8,465.9 702.6,430.1" fill="#ffffff" stroke="none"/>
<line x1="722.6" y1="392.1" x2="790.8" y2="427.9" stroke="#111" stroke-width="1.5"/>
<line x1="702.6" y1="430.1" x2="770.8" y2="465.9" stroke="#111" stroke-width="1.5"/>
<line class="th" x1="723.0" y1="395.6" x2="789.4" y2="430.5"/>
<line class="th" x1="720.6" y1="399.7" x2="787.2" y2="434.7"/>
<line class="th" x1="718.2" y1="403.7" x2="785.0" y2="438.9"/>
<line class="th" x1="715.8" y1="407.8" x2="782.8" y2="443.0"/>
<line class="th" x1="713.4" y1="411.8" x2="780.7" y2="447.2"/>
<line class="th" x1="711.4" y1="416.1" x2="778.5" y2="451.3"/>
<line class="th" x1="709.4" y1="420.4" x2="776.3" y2="455.5"/>
<line class="th" x1="707.5" y1="424.6" x2="774.1" y2="459.7"/>
<line class="th" x1="705.5" y1="428.9" x2="771.9" y2="463.8"/>
<polygon points="788.3,428.3 798.9,433.9 780.3,469.3 769.7,463.7" fill="#ffffff" stroke="none"/>
<line x1="788.3" y1="428.3" x2="798.9" y2="433.9" stroke="#111" stroke-width="1.2"/>
<line x1="769.7" y1="463.7" x2="780.3" y2="469.3" stroke="#111" stroke-width="1.2"/>
<path class="th" d="M788.7,431.9 L793.7,432.8 L795.7,437.8"/>
<path class="th" d="M786.1,436.7 L791.2,437.7 L793.2,442.7"/>
<path class="th" d="M783.6,441.6 L788.6,442.6 L790.6,447.6"/>
<path class="th" d="M781.0,446.5 L786.0,447.4 L788.1,452.4"/>
<path class="th" d="M778.5,451.3 L783.5,452.3 L785.5,457.3"/>
<path class="th" d="M775.9,456.2 L780.9,457.2 L782.9,462.2"/>
<path class="th" d="M773.3,461.1 L778.4,462.0 L780.4,467.0"/>
<ellipse cx="795" cy="458" rx="30" ry="46" transform="rotate(20 795 458)" fill="#ffffff" stroke="#111" stroke-width="5.5" stroke-dasharray="1.8 1.7"/>
<ellipse cx="795" cy="458" rx="30" ry="46" transform="rotate(20 795 458)" fill="#ffffff" stroke="#111" stroke-width="1.2"/>
<line x1="823.2" y1="468.3" x2="836.2" y2="475.3" stroke="#111" stroke-width="1.9"/>
<line x1="820.4" y1="474.9" x2="833.4" y2="481.9" stroke="#111" stroke-width="1.9"/>
<line x1="816.9" y1="481.1" x2="829.9" y2="488.1" stroke="#111" stroke-width="1.9"/>
<line x1="813.0" y1="486.8" x2="826.0" y2="493.8" stroke="#111" stroke-width="1.9"/>
<line x1="808.6" y1="491.7" x2="821.6" y2="498.7" stroke="#111" stroke-width="1.9"/>
<line x1="803.8" y1="495.8" x2="816.8" y2="502.8" stroke="#111" stroke-width="1.9"/>
<line x1="798.8" y1="499.0" x2="811.8" y2="506.0" stroke="#111" stroke-width="1.9"/>
<line x1="793.8" y1="501.2" x2="806.8" y2="508.2" stroke="#111" stroke-width="1.9"/>
<line x1="788.7" y1="502.3" x2="801.7" y2="509.3" stroke="#111" stroke-width="1.9"/>
<line x1="783.9" y1="502.3" x2="796.9" y2="509.3" stroke="#111" stroke-width="1.9"/>
<line x1="779.3" y1="501.2" x2="792.3" y2="508.2" stroke="#111" stroke-width="1.9"/>
<line x1="775.1" y1="499.1" x2="788.1" y2="506.1" stroke="#111" stroke-width="1.9"/>
<line x1="771.3" y1="495.9" x2="784.3" y2="502.9" stroke="#111" stroke-width="1.9"/>
<line x1="768.2" y1="491.9" x2="781.2" y2="498.9" stroke="#111" stroke-width="1.9"/>
<line x1="765.7" y1="486.9" x2="778.7" y2="493.9" stroke="#111" stroke-width="1.9"/>
<line x1="763.9" y1="481.3" x2="776.9" y2="488.3" stroke="#111" stroke-width="1.9"/>
<line x1="762.9" y1="475.1" x2="775.9" y2="482.1" stroke="#111" stroke-width="1.9"/>
<line x1="762.7" y1="468.5" x2="775.7" y2="475.5" stroke="#111" stroke-width="1.9"/>
<line x1="763.3" y1="461.6" x2="776.3" y2="468.6" stroke="#111" stroke-width="1.9"/>
<line x1="764.7" y1="454.6" x2="777.7" y2="461.6" stroke="#111" stroke-width="1.9"/>
<line x1="766.8" y1="447.7" x2="779.8" y2="454.7" stroke="#111" stroke-width="1.9"/>
<line x1="769.6" y1="441.1" x2="782.6" y2="448.1" stroke="#111" stroke-width="1.9"/>
<line x1="773.1" y1="434.9" x2="786.1" y2="441.9" stroke="#111" stroke-width="1.9"/>
<line x1="777.0" y1="429.2" x2="790.0" y2="436.2" stroke="#111" stroke-width="1.9"/>
<line x1="781.4" y1="424.3" x2="794.4" y2="431.3" stroke="#111" stroke-width="1.9"/>
<line x1="786.2" y1="420.2" x2="799.2" y2="427.2" stroke="#111" stroke-width="1.9"/>
<line x1="791.2" y1="417.0" x2="804.2" y2="424.0" stroke="#111" stroke-width="1.9"/>
<line x1="796.2" y1="414.8" x2="809.2" y2="421.8" stroke="#111" stroke-width="1.9"/>
<line x1="801.3" y1="413.7" x2="814.3" y2="420.7" stroke="#111" stroke-width="1.9"/>
<line x1="806.1" y1="413.7" x2="819.1" y2="420.7" stroke="#111" stroke-width="1.9"/>
<line x1="810.7" y1="414.8" x2="823.7" y2="421.8" stroke="#111" stroke-width="1.9"/>
<line x1="814.9" y1="416.9" x2="827.9" y2="423.9" stroke="#111" stroke-width="1.9"/>
<line x1="818.7" y1="420.1" x2="831.7" y2="427.1" stroke="#111" stroke-width="1.9"/>
<line x1="821.8" y1="424.1" x2="834.8" y2="431.1" stroke="#111" stroke-width="1.9"/>
<line x1="824.3" y1="429.1" x2="837.3" y2="436.1" stroke="#111" stroke-width="1.9"/>
<line x1="826.1" y1="434.7" x2="839.1" y2="441.7" stroke="#111" stroke-width="1.9"/>
<line x1="827.1" y1="440.9" x2="840.1" y2="447.9" stroke="#111" stroke-width="1.9"/>
<line x1="827.3" y1="447.5" x2="840.3" y2="454.5" stroke="#111" stroke-width="1.9"/>
<line x1="826.7" y1="454.4" x2="839.7" y2="461.4" stroke="#111" stroke-width="1.9"/>
<line x1="825.3" y1="461.4" x2="838.3" y2="468.4" stroke="#111" stroke-width="1.9"/>
<ellipse cx="808" cy="465" rx="30" ry="46" transform="rotate(20 808 465)" fill="#ffffff" stroke="#111" stroke-width="2"/>
<ellipse cx="809" cy="466" rx="26" ry="41" transform="rotate(20 809 466)" fill="none" stroke="#111" stroke-width="1.1"/>
<ellipse cx="816" cy="470" rx="19" ry="29" transform="rotate(20 816 470)" fill="#ffffff" stroke="#111" stroke-width="1.3"/>
<line class="o" x1="833.4" y1="474.9" x2="833.9" y2="476.5"/>
<line class="o" x1="827.2" y1="487.5" x2="829.4" y2="485.4"/>
<line class="o" x1="818.7" y1="497.6" x2="823.3" y2="492.5"/>
<line class="o" x1="809.1" y1="503.8" x2="816.3" y2="496.8"/>
<line class="o" x1="799.4" y1="505.5" x2="809.3" y2="498.0"/>
<line class="o" x1="790.9" y1="502.4" x2="803.1" y2="495.7"/>
<line class="o" x1="784.6" y1="494.9" x2="798.5" y2="490.4"/>
<line class="o" x1="781.3" y1="484.0" x2="795.9" y2="482.5"/>
<line class="o" x1="781.2" y1="470.8" x2="795.8" y2="473.2"/>
<line class="o" x1="784.6" y1="457.1" x2="798.1" y2="463.5"/>
<line class="o" x1="790.8" y1="444.5" x2="802.6" y2="454.6"/>
<line class="o" x1="799.3" y1="434.4" x2="808.7" y2="447.5"/>
<line class="o" x1="808.9" y1="428.2" x2="815.7" y2="443.2"/>
<line class="o" x1="818.6" y1="426.5" x2="822.7" y2="442.0"/>
<line class="o" x1="827.1" y1="429.6" x2="828.9" y2="444.3"/>
<line class="o" x1="833.4" y1="437.1" x2="833.5" y2="449.6"/>
<line class="o" x1="836.7" y1="448.0" x2="836.1" y2="457.5"/>
<line class="o" x1="836.8" y1="461.2" x2="836.2" y2="466.8"/>
<polygon points="837.1,478.1 828.5,478.6 830.0,489.3 824.1,482.9 820.2,494.2 819.2,483.3 811.5,491.1 815.8,479.9 807.2,481.0 815.1,473.8 808.9,467.9 817.5,467.4 816.0,456.7 821.9,463.1 825.8,451.8 826.8,462.7 834.5,454.9 830.2,466.1 838.8,465.0 830.9,472.2" fill="#ffffff" stroke="#111" stroke-width="1.8" stroke-linejoin="round"/>
<line class="o" x1="823" y1="473" x2="837.1" y2="478.1"/>
<line class="o" x1="823" y1="473" x2="830.0" y2="489.3"/>
<line class="o" x1="823" y1="473" x2="820.2" y2="494.2"/>
<line class="o" x1="823" y1="473" x2="811.5" y2="491.1"/>
<line class="o" x1="823" y1="473" x2="807.2" y2="481.0"/>
<line class="o" x1="823" y1="473" x2="808.9" y2="467.9"/>
<line class="o" x1="823" y1="473" x2="816.0" y2="456.7"/>
<line class="o" x1="823" y1="473" x2="825.8" y2="451.8"/>
<line class="o" x1="823" y1="473" x2="834.5" y2="454.9"/>
<line class="o" x1="823" y1="473" x2="838.8" y2="465.0"/>
<polygon points="829,476 837,472 844,481 835,488" fill="#ffffff" stroke="#111" stroke-width="1.4"/>
<ellipse cx="840" cy="480.5" rx="4.5" ry="6.5" transform="rotate(20 840 480.5)" fill="#ffffff" stroke="#111" stroke-width="1.8"/>
<ellipse class="o" cx="840.5" cy="480.5" rx="1.6" ry="2.2" transform="rotate(20 840.5 480.5)" />
<line class="br" x1="813.4" y1="404" x2="813.4" y2="418.2"/>
<text class="b" x="801" y="399.7" >803</text>
<polygon class="x" points="661.0,411.2 676.3,416.3 676.3,418.6 661.5,413.8" fill="#a9a9a9" stroke="#111" stroke-width="1.6"/>
<polygon class="x" points="674.5,416.5 681.0,415.5 681.0,424.0 678.5,426.5 678.3,435.0 671.0,434.6 671.0,430.0 675.5,428.0" fill="#a9a9a9" stroke="#111" stroke-width="1.7"/>
<line class="o" x1="678.3" y1="420" x2="681" y2="419"/>
<line class="lg" x1="676" y1="437.8" x2="676" y2="450.8"/>
<text class="b" x="667.4" y="461.7" >39</text>
<line class="l" x1="640" y1="410" x2="668" y2="420"/>
<line class="l" x1="933.5" y1="334" x2="933.5" y2="349.7"/>
<path d="M920.7,350.5 L920.7,364.0 A12,4.8 0 0 0 944.7,364.0 L944.7,350.5 Z" fill="#a9a9a9" stroke="#111" stroke-width="2.2" stroke-linejoin="round"/>
<ellipse cx="932.7" cy="350.5" rx="12" ry="4.8" fill="#a9a9a9" stroke="#111" stroke-width="2.2"/>
<ellipse class="o" cx="932.7" cy="351.5" rx="7.5" ry="3" transform="rotate(0 932.7 351.5)" />
<line class="th" x1="928" y1="350" x2="928" y2="354"/>
<line class="th" x1="931" y1="350" x2="931" y2="354"/>
<line class="th" x1="934" y1="350" x2="934" y2="354"/>
<line class="th" x1="937" y1="350" x2="937" y2="354"/>
<line class="lg" x1="946.9" y1="362.7" x2="984.7" y2="362.7"/>
<text class="b" x="987.5" y="367.8" >27</text>
<line class="l" x1="933.5" y1="371" x2="933.5" y2="379"/>
<path d="M916.0,383.5 L916.0,399.0 A16.7,6.7 0 0 0 949.4000000000001,399.0 L949.4000000000001,383.5 Z" fill="#a9a9a9" stroke="#111" stroke-width="2.4" stroke-linejoin="round"/>
<ellipse cx="932.7" cy="383.5" rx="16.7" ry="6.7" fill="#a9a9a9" stroke="#111" stroke-width="2.4"/>
<ellipse class="o" cx="932.7" cy="384.5" rx="11" ry="4.3" transform="rotate(0 932.7 384.5)" />
<line class="l" x1="933.5" y1="383" x2="933.5" y2="387"/>
<line class="lg" x1="950" y1="387.9" x2="984.7" y2="387.9"/>
<text class="b" x="987.5" y="393.3" >28</text>
<line class="l" x1="933.5" y1="408.7" x2="933.5" y2="446"/>
<path d="M892.6,480 L892.6,498 Q896,514 926,520 Q945,522 955,517 L955,507 L972,500 L972,480 Z" fill="#a9a9a9" stroke="#111" stroke-width="2.4" stroke-linejoin="round"/>
<path d="M955,507 L962,507 L962,530 L972,522 L972,500" fill="#a9a9a9" stroke="#111" stroke-width="2.2" stroke-linejoin="round"/>
<path class="t" d="M893,496 Q905,508 930,510 Q945,511 955,507" />
<path d="M921.4,520 L921.4,542 L943.2,542 L943.2,518" fill="#a9a9a9" stroke="#111" stroke-width="2"/>
<path d="M923,542 L923,558 Q930,562 938.6,558 L938.6,542" fill="#a9a9a9" stroke="#111" stroke-width="2"/>
<ellipse class="o" cx="930.8" cy="542" rx="11" ry="2.5" transform="rotate(0 930.8 542)" />
<line class="o" x1="923" y1="554" x2="938.6" y2="554"/>
<ellipse cx="933.5" cy="478" rx="41" ry="25" fill="#a9a9a9" stroke="#111" stroke-width="2.6"/>
<path d="M972.9,476.5 Q960.5,476.5 972.9,479.5" fill="none" stroke="#111" stroke-width="1.7"/>
<path d="M972.7,480.8 Q960.0,479.1 971.8,483.8" fill="none" stroke="#111" stroke-width="1.7"/>
<path d="M971.2,485.0 Q958.7,481.6 969.3,487.9" fill="none" stroke="#111" stroke-width="1.7"/>
<path d="M968.4,489.0 Q956.5,483.9 965.7,491.6" fill="none" stroke="#111" stroke-width="1.7"/>
<path d="M964.4,492.7 Q953.5,485.9 960.9,494.9" fill="none" stroke="#111" stroke-width="1.7"/>
<path d="M959.3,495.8 Q949.8,487.7 955.2,497.6" fill="none" stroke="#111" stroke-width="1.7"/>
<path d="M953.4,498.3 Q945.5,489.0 948.8,499.7" fill="none" stroke="#111" stroke-width="1.7"/>
<path d="M946.8,500.1 Q940.9,490.0 941.8,501.0" fill="none" stroke="#111" stroke-width="1.7"/>
<path d="M939.7,501.2 Q936.0,490.4 934.6,501.5" fill="none" stroke="#111" stroke-width="1.7"/>
<path d="M932.4,501.5 Q931.0,490.4 927.3,501.2" fill="none" stroke="#111" stroke-width="1.7"/>
<path d="M925.2,501.0 Q926.1,490.0 920.2,500.1" fill="none" stroke="#111" stroke-width="1.7"/>
<path d="M918.2,499.7 Q921.5,489.0 913.6,498.3" fill="none" stroke="#111" stroke-width="1.7"/>
<path d="M911.8,497.6 Q917.2,487.7 907.7,495.8" fill="none" stroke="#111" stroke-width="1.7"/>
<path d="M906.1,494.9 Q913.5,485.9 902.6,492.7" fill="none" stroke="#111" stroke-width="1.7"/>
<path d="M901.3,491.6 Q910.5,483.9 898.6,489.0" fill="none" stroke="#111" stroke-width="1.7"/>
<path d="M897.7,487.9 Q908.3,481.6 895.8,485.0" fill="none" stroke="#111" stroke-width="1.7"/>
<path d="M895.2,483.8 Q907.0,479.1 894.3,480.8" fill="none" stroke="#111" stroke-width="1.7"/>
<path d="M894.1,479.5 Q906.5,476.5 894.1,476.5" fill="none" stroke="#111" stroke-width="1.7"/>
<path d="M894.3,475.2 Q907.0,473.9 895.2,472.2" fill="none" stroke="#111" stroke-width="1.7"/>
<path d="M895.8,471.0 Q908.3,471.4 897.7,468.1" fill="none" stroke="#111" stroke-width="1.7"/>
<path d="M898.6,467.0 Q910.5,469.1 901.3,464.4" fill="none" stroke="#111" stroke-width="1.7"/>
<path d="M902.6,463.3 Q913.5,467.1 906.1,461.1" fill="none" stroke="#111" stroke-width="1.7"/>
<path d="M907.7,460.2 Q917.2,465.3 911.8,458.4" fill="none" stroke="#111" stroke-width="1.7"/>
<path d="M913.6,457.7 Q921.5,464.0 918.2,456.3" fill="none" stroke="#111" stroke-width="1.7"/>
<path d="M920.2,455.9 Q926.1,463.0 925.2,455.0" fill="none" stroke="#111" stroke-width="1.7"/>
<path d="M927.3,454.8 Q931.0,462.6 932.4,454.5" fill="none" stroke="#111" stroke-width="1.7"/>
<path d="M934.6,454.5 Q936.0,462.6 939.7,454.8" fill="none" stroke="#111" stroke-width="1.7"/>
<path d="M941.8,455.0 Q940.9,463.0 946.8,455.9" fill="none" stroke="#111" stroke-width="1.7"/>
<path d="M948.8,456.3 Q945.5,464.0 953.4,457.7" fill="none" stroke="#111" stroke-width="1.7"/>
<path d="M955.2,458.4 Q949.8,465.3 959.3,460.2" fill="none" stroke="#111" stroke-width="1.7"/>
<path d="M960.9,461.1 Q953.5,467.1 964.4,463.3" fill="none" stroke="#111" stroke-width="1.7"/>
<path d="M965.7,464.4 Q956.5,469.1 968.4,467.0" fill="none" stroke="#111" stroke-width="1.7"/>
<path d="M969.3,468.1 Q958.7,471.4 971.2,471.0" fill="none" stroke="#111" stroke-width="1.7"/>
<path d="M971.8,472.2 Q960.0,473.9 972.7,475.2" fill="none" stroke="#111" stroke-width="1.7"/>
<ellipse cx="933.5" cy="475.5" rx="25" ry="12.5" fill="#a9a9a9" stroke="#111" stroke-width="1.3"/>
<path d="M923.7,470 L923.7,478 Q933,483 943.2,478 L943.2,470 Z" fill="#a9a9a9" stroke="#111" stroke-width="1.5"/>
<ellipse cx="933.5" cy="469" rx="9.8" ry="3.2" fill="#a9a9a9" stroke="#111" stroke-width="1.3"/>
<path d="M925,447 L925,469 L942,469 L942,447" fill="#a9a9a9" stroke="#111" stroke-width="1.8"/>
<ellipse class="x" cx="933.5" cy="447.2" rx="8.6" ry="3.4" transform="rotate(0 933.5 447.2)" fill="#a9a9a9" stroke="#111" stroke-width="1.8"/>
<line class="l" x1="933.5" y1="444" x2="933.5" y2="449"/>
<polyline class="o" points="976.6,480.1 1018.0,480.1 1018.0,648.0 960.5,648.0" />
<path d="M976.6,480.1 L1018,480.1 L1018,648 L960.5,648" fill="none" stroke="#222" stroke-width="1.5"/>
<line class="br" x1="1018" y1="550.7" x2="1027.2" y2="550.7"/>
<text class="b" x="1029.5" y="556.5" >830</text>
<line class="br" x1="1041" y1="560" x2="1041" y2="594"/>
<line class="br" x1="1041" y1="577.2" x2="1047.9" y2="577.2"/>
<text class="b" x="1047.9" y="583" >835</text>
<circle cx="1040.3" cy="603.6" r="10.3" fill="#111"/>
<text class="cw" x="1040.3" y="608.4">X</text>
<line class="l" x1="933" y1="575" x2="933" y2="584"/>
<polygon points="937.4,573.4 940.7,573.9 943.8,574.6 946.7,575.6 949.4,576.7 951.9,578.1 954.0,579.6 955.8,581.3 957.2,583.1 958.2,585.0 958.7,587.0 958.9,589.0 958.6,591.0 957.9,592.9 956.8,594.8 955.3,596.6 953.4,598.2 951.2,599.7 948.6,601.0 945.9,602.1 942.8,603.0 939.7,603.7 936.4,604.1 933.1,604.2 929.7,604.1 926.4,603.7 923.3,603.1 920.2,602.2 917.4,601.2 914.9,599.9 912.6,598.4 910.7,596.8 909.1,595.0 908.0,593.1 907.2,591.2 906.9,589.2 907.0,587.2 907.6,585.2 908.5,583.3 909.9,581.5 911.6,579.8 915.4,581.4 913.9,582.8 912.8,584.3 912.0,585.9 911.6,587.5 911.5,589.1 911.8,590.7 912.4,592.3 913.4,593.9 914.6,595.3 916.2,596.7 918.1,597.9 920.2,598.9 922.5,599.8 925.0,600.5 927.6,601.0 930.3,601.3 933.0,601.4 935.8,601.3 938.5,601.0 941.1,600.5 943.6,599.7 945.9,598.8 947.9,597.8 949.8,596.5 951.3,595.2 952.6,593.7 953.5,592.2 954.1,590.6 954.3,589.0 954.2,587.3 953.7,585.7 952.9,584.1 951.7,582.6 950.3,581.3 948.5,580.0 946.5,578.9 944.3,577.9 941.9,577.1 939.3,576.5 936.6,576.2" fill="#a9a9a9" stroke="#111" stroke-width="1.8" stroke-linejoin="round"/>
<ellipse class="o" cx="932.9" cy="590" rx="14" ry="5" transform="rotate(0 932.9 590)" />
<path class="o" d="M920,590 Q933,586 946,590" />
<polygon points="928.4,619.8 927.1,619.6 925.8,619.5 924.6,619.3 923.4,619.0 922.2,618.8 921.0,618.4 919.9,618.1 918.7,617.7 917.7,617.3 916.6,616.9 915.6,616.5 914.7,616.0 913.8,615.5 912.9,615.0 912.1,614.4 911.3,613.8 910.6,613.2 910.0,612.6 909.4,612.0 908.9,611.4 908.4,610.7 908.0,610.0 907.7,609.4 907.4,608.7 907.2,608.0 907.0,607.3 906.9,606.6 906.9,605.9 906.9,605.2 907.1,604.5 907.2,603.8 907.5,603.1 907.8,602.4 908.1,601.7 908.6,601.1 909.1,600.4 909.6,599.8 910.2,599.2 910.9,598.6 911.6,598.0 915.4,599.6 914.8,600.0 914.2,600.5 913.7,601.0 913.3,601.5 912.9,602.0 912.5,602.6 912.2,603.1 912.0,603.7 911.8,604.2 911.6,604.8 911.5,605.3 911.5,605.9 911.5,606.5 911.6,607.0 911.7,607.6 911.9,608.1 912.1,608.7 912.4,609.2 912.7,609.8 913.1,610.3 913.6,610.8 914.0,611.3 914.6,611.8 915.2,612.3 915.8,612.7 916.4,613.2 917.2,613.6 917.9,614.0 918.7,614.4 919.5,614.8 920.4,615.1 921.2,615.4 922.2,615.7 923.1,616.0 924.1,616.2 925.1,616.5 926.1,616.7 927.1,616.8 928.1,617.0 929.2,617.1" fill="#a9a9a9" stroke="#111" stroke-width="1.8" stroke-linejoin="round"/>
<path class="t" d="M950,600 Q958,603 953,609" />
<line class="lg" x1="959.3" y1="583.6" x2="985.8" y2="583.6"/>
<text class="b" x="988" y="589.4" >42</text>
<line class="lg" x1="959.3" y1="601.3" x2="985.8" y2="601.3"/>
<text class="b" x="988" y="606.6" >42</text>
<line class="l" x1="933" y1="618" x2="933" y2="630"/>
<path d="M906,641 L906,655 A27,12.5 0 0 0 960,655 L960,641 Z" fill="#a9a9a9" stroke="#111" stroke-width="2.6"/>
<ellipse cx="933" cy="641" rx="27" ry="12.5" fill="#a9a9a9" stroke="#111" stroke-width="2.6"/>
<ellipse class="o" cx="933" cy="641.5" rx="21" ry="9.5" transform="rotate(0 933 641.5)" />
<ellipse class="o" cx="933" cy="641.5" rx="16" ry="7" transform="rotate(0 933 641.5)" />
<ellipse class="o" cx="933" cy="641.5" rx="10.5" ry="4.5" transform="rotate(0 933 641.5)" />
<line class="l" x1="933" y1="628" x2="933" y2="642"/>
<polygon points="924.0,695.1 922.6,694.8 921.3,694.4 920.0,694.1 918.7,693.6 917.5,693.2 916.4,692.7 915.3,692.2 914.2,691.6 913.2,691.0 912.3,690.4 911.4,689.8 910.6,689.1 909.9,688.4 909.2,687.7 908.7,687.0 908.2,686.2 907.8,685.5 907.4,684.7 907.2,683.9 907.0,683.1 906.9,682.3 906.9,681.5 907.0,680.7 907.2,680.0 907.4,679.2 907.7,678.4 908.1,677.6 908.6,676.9 909.2,676.1 909.8,675.4 910.6,674.7 911.3,674.1 912.2,673.4 913.1,672.8 914.1,672.2 915.2,671.7 916.3,671.1 917.4,670.6 918.6,670.2 919.9,669.8 922.2,672.2 921.2,672.5 920.2,672.9 919.2,673.3 918.3,673.7 917.4,674.1 916.6,674.6 915.9,675.1 915.2,675.6 914.5,676.2 913.9,676.7 913.4,677.3 912.9,677.9 912.5,678.5 912.2,679.1 911.9,679.7 911.7,680.3 911.6,681.0 911.5,681.6 911.5,682.2 911.6,682.9 911.7,683.5 911.9,684.1 912.2,684.8 912.5,685.4 913.0,686.0 913.4,686.6 914.0,687.1 914.6,687.7 915.2,688.2 915.9,688.7 916.7,689.2 917.5,689.7 918.4,690.2 919.3,690.6 920.2,691.0 921.2,691.3 922.3,691.7 923.4,692.0 924.5,692.2 925.6,692.5" fill="#a9a9a9" stroke="#111" stroke-width="1.8" stroke-linejoin="round"/>
<polygon points="945.9,669.8 946.4,669.9 947.0,670.1 947.5,670.3 948.0,670.5 948.5,670.7 949.0,670.9 949.5,671.1 950.0,671.3 950.4,671.6 950.9,671.8 951.3,672.0 951.8,672.3 952.2,672.5 952.6,672.8 953.0,673.0 953.4,673.3 953.8,673.5 954.1,673.8 954.5,674.1 954.8,674.4 955.2,674.7 955.5,675.0 955.8,675.2 956.1,675.5 956.3,675.8 956.6,676.1 956.9,676.5 957.1,676.8 957.3,677.1 957.5,677.4 957.7,677.7 957.9,678.0 958.1,678.4 958.2,678.7 958.3,679.0 958.5,679.3 958.6,679.7 958.7,680.0 958.7,680.3 958.8,680.7 954.2,680.9 954.2,680.7 954.1,680.4 954.0,680.1 953.9,679.9 953.8,679.6 953.7,679.3 953.6,679.1 953.5,678.8 953.3,678.5 953.2,678.3 953.0,678.0 952.8,677.8 952.6,677.5 952.4,677.3 952.2,677.0 952.0,676.8 951.7,676.6 951.5,676.3 951.2,676.1 950.9,675.9 950.7,675.6 950.4,675.4 950.1,675.2 949.8,675.0 949.4,674.8 949.1,674.6 948.8,674.4 948.4,674.2 948.1,674.0 947.7,673.8 947.3,673.6 946.9,673.4 946.5,673.2 946.1,673.1 945.7,672.9 945.3,672.7 944.9,672.6 944.5,672.4 944.0,672.3 943.6,672.2" fill="#a9a9a9" stroke="#111" stroke-width="1.8" stroke-linejoin="round"/>
<line class="lg" x1="960.5" y1="677.3" x2="984.6" y2="677.3"/>
<text class="b" x="987.6" y="681.9" >42</text>
<line class="lg" x1="996.1" y1="684.2" x2="996.1" y2="694.5"/>
<text x="952.4" y="704.9" style="font-size:11px">Zahnspiel 0,1 - 0,25mm</text>
<text x="952.4" y="717.5" style="font-size:11px">mit Pos 42 einstellen</text>
<line class="l" x1="932.9" y1="698" x2="932.9" y2="714"/>
<circle cx="932.9" cy="723.8" r="10.3" fill="#111"/>
<text class="cw" x="932.9" y="728.5999999999999">E</text>
<polygon class="ft" points="181.3,465.2 165.2,450.3 144.5,513.6 167.5,529.7 179.0,540.0 220.0,557.0 268.0,586.0 293.0,599.6 310.0,602.5 340.0,619.0 360.5,632.3 369.2,645.4 375.8,665.0 382.3,675.9 386.6,675.9 393.2,688.9 399.7,706.4 404.0,715.0 434.6,736.9 460.7,742.3 500.0,739.0 511.9,732.5 513.0,693.3 510.8,651.9 504.3,647.5 482.5,617.0 456.9,580.0 450.0,568.8 432.7,551.4 420.4,545.2 404.0,556.5 380.6,544.2 391.6,535.4 391.6,531.8 234.3,441.0 232.0,441.1 213.6,448.0" />
<path d="M181.3,465.2 L165.2,450.3 C158,447 148,452 138,461 C127,472 121,484 123,494 C125,503 134,509 144.5,513.6 C146,500 158,478 181.3,465.2 Z" fill="#a9a9a9" stroke="none"/>
<path d="M181.3,465.2 L165.2,450.3 C158,447 148,452 138,461 C127,472 121,484 123,494 C125,503 134,509 144.5,513.6" fill="none" stroke="#111" stroke-width="2.4" stroke-linejoin="round"/>
<path class="o" d="M181.3,465.2 C165,474 152,488 147,500 C145,506 144.5,510 144.5,513.6" />
<path class="o" d="M170,489 Q172,476 186,466 L231,443" />
<path class="o" d="M173,491 Q176,480 189,470 L233,447" />
<path d="M171.0,488.0 L207.0,530.0 Q209.5,532.0 210.0,529.0 L174.5,486.5 Z" fill="none" stroke="#111" stroke-width="1.1"/>
<path d="M174.8,485.8 L210.8,527.8 Q213.3,529.8 213.8,526.8 L178.3,484.3 Z" fill="none" stroke="#111" stroke-width="1.1"/>
<path d="M178.6,483.6 L214.6,525.6 Q217.1,527.6 217.6,524.6 L182.1,482.1 Z" fill="none" stroke="#111" stroke-width="1.1"/>
<path d="M182.4,481.4 L218.4,523.4 Q220.9,525.4 221.4,522.4 L185.9,479.9 Z" fill="none" stroke="#111" stroke-width="1.1"/>
<path d="M186.2,479.2 L222.2,521.2 Q224.7,523.2 225.2,520.2 L189.7,477.7 Z" fill="none" stroke="#111" stroke-width="1.1"/>
<path d="M190.0,477.0 L226.0,519.0 Q228.5,521.0 229.0,518.0 L193.5,475.5 Z" fill="none" stroke="#111" stroke-width="1.1"/>
<ellipse class="o" cx="234.9" cy="511.7" rx="5.5" ry="6.5" transform="rotate(-20 234.9 511.7)" />
<ellipse class="o" cx="234.9" cy="543.6" rx="5.5" ry="6.5" transform="rotate(-20 234.9 543.6)" />
<path class="o" d="M241.7,519.4 L341.5,574.7 L359,619.2" />
<path class="o" d="M241.7,519.4 Q238,530 240.7,547.5 Q241.5,551 244.6,552.4 L357,619" />
<path class="o" d="M200,536.5 L262,570 L356,622" />
<line class="o" x1="203" y1="469.4" x2="400" y2="578.5"/>
<path class="o" d="M316.3,489.4 C304,497 300,510 301.7,518.4 C303,530 305,538 308.5,541.7 C315,550 320,555 326,559 C335,565 345,569 351.2,572.7 C360,577 368,582 374.4,586.3 C385,594 392,601 400,609.5 C406,618 410,628 413,640 C417,655 422,670 432.3,681.9 C445,690 470,696 511,694" />
<path class="o" d="M318,492 C307,500 303,512 305,520 C306,532 308,539 311.5,543 C318,551 324,556 330,560 C339,565 348,570 354,573.5" />
<path class="o" d="M380.8,572.9 L405,594 L432.3,619.8 Q445,632 459.5,639.5 Q485,652 507.9,653.1" />
<ellipse class="f" cx="404.4" cy="594.1" rx="5" ry="6.5" transform="rotate(-15 404.4 594.1)" />
<ellipse class="f" cx="432.3" cy="620.7" rx="5" ry="6.5" transform="rotate(-15 432.3 620.7)" />
<path d="M359.6,600.1 L389.9,609.2 Q410,640 426.2,681.9 L380,667 Z" fill="none" stroke="#111" stroke-width="1.1"/>
<path d="M361.0,603.0 L399.0,617.0 Q402.0,620.0 399.0,621.0 L362.0,608.0 Z" fill="none" stroke="#111" stroke-width="1.1"/>
<path d="M362.6,614.3 L400.6,628.3 Q403.6,631.3 400.6,632.3 L363.6,619.3 Z" fill="none" stroke="#111" stroke-width="1.1"/>
<path d="M364.2,625.6 L402.2,639.6 Q405.2,642.6 402.2,643.6 L365.2,630.6 Z" fill="none" stroke="#111" stroke-width="1.1"/>
<path d="M365.8,636.9 L403.8,650.9 Q406.8,653.9 403.8,654.9 L366.8,641.9 Z" fill="none" stroke="#111" stroke-width="1.1"/>
<path d="M367.4,648.2 L405.4,662.2 Q408.4,665.2 405.4,666.2 L368.4,653.2 Z" fill="none" stroke="#111" stroke-width="1.1"/>
<ellipse class="o" cx="399" cy="646" rx="4.5" ry="5" transform="rotate(0 399 646)" />
<ellipse class="o" cx="394" cy="621" rx="1.8" ry="1.8" transform="rotate(0 394 621)" />
<ellipse class="o" cx="394" cy="631" rx="1.8" ry="1.8" transform="rotate(0 394 631)" />
<ellipse class="o" cx="414.1" cy="694" rx="4.5" ry="5.5" transform="rotate(-20 414.1 694)" />
<ellipse class="o" cx="478" cy="728" rx="6.5" ry="4.5" transform="rotate(-10 478 728)" />
<path class="o" d="M423,684 Q460,697 513,691" />
<path class="o" d="M426,688 Q462,701 513,695" />
<line class="lg" x1="233.1" y1="430.7" x2="233.1" y2="440"/>
<text class="b" x="229.2" y="428" >1</text>
<path class="o" d="M149,567 Q145.5,566 146,570 L146.7,600 Q147,603 150,604.5 L261,667.5 Q264,669 263,665 L245,623 Q244,620.5 241,619.5 Z" />
<line class="o" x1="226.1" y1="605.4" x2="268.3" y2="580.7"/>
<line class="lg" x1="161" y1="613.4" x2="161" y2="622.8"/>
<text class="b" x="148.6" y="636" >808</text>
<polygon class="ft" points="297.6,424.5 289.7,428.8 287.7,442.6 283.8,445.5 284.8,454.4 289.7,459.3 302.5,461.3 306.4,468.2 315.3,469.2 317.3,465.2 368.5,480.0 372.4,482.0 377.3,474.1 384.2,473.1 433.0,505.0 432.5,507.5 433.4,511.5 465.0,529.2 467.0,528.2 478.7,517.4 494.5,512.5 496.5,509.5 465.0,489.8 457.1,490.8 447.2,492.8 396.0,465.2 388.2,461.3 376.3,462.3 370.4,465.2" />
<polyline class="o" points="309.4,444.5 372.4,476.0 376.0,470.0 384.0,468.0 440.0,500.0" />
<polyline class="o" points="309.4,444.5 309.0,461.0 317.0,465.0" />
<polyline class="o" points="284.0,445.5 302.0,450.0 309.4,446.0" />
<polyline class="o" points="302.0,450.0 302.5,461.3" />
<polyline class="o" points="440.0,500.0 458.0,492.0 490.0,510.0" />
<path class="o" d="M447,497 Q452,508 448,517" />
<path class="o" d="M455,494 Q462,507 457,520" />
<path class="o" d="M460,500 Q475,498 480,510" />
<line class="lg" x1="426.6" y1="470.1" x2="426.6" y2="479"/>
<text class="b" x="418.7" y="466.6" >41</text>
<line class="o" x1="398" y1="540" x2="435" y2="518"/>
<ellipse class="f" cx="354" cy="726" rx="5.4" ry="5.4" transform="rotate(0 354 726)" />
<line class="o" x1="351" y1="723.5" x2="357" y2="728.5"/>
<line class="o" x1="351" y1="728.5" x2="357" y2="723.5"/>
<line x1="359.0" y1="719.9" x2="360.4" y2="725.1" stroke="#111" stroke-width="1.5"/>
<line x1="361.6" y1="718.52" x2="363.0" y2="723.72" stroke="#111" stroke-width="1.5"/>
<line x1="364.2" y1="717.14" x2="365.59999999999997" y2="722.34" stroke="#111" stroke-width="1.5"/>
<line x1="366.8" y1="715.76" x2="368.2" y2="720.96" stroke="#111" stroke-width="1.5"/>
<line x1="369.4" y1="714.38" x2="370.79999999999995" y2="719.58" stroke="#111" stroke-width="1.5"/>
<line x1="372.0" y1="713.0" x2="373.4" y2="718.2" stroke="#111" stroke-width="1.5"/>
<line x1="374.6" y1="711.62" x2="376.0" y2="716.82" stroke="#111" stroke-width="1.5"/>
<polyline class="o" points="358.5,720.0 377.0,710.5" />
<polyline class="o" points="360.5,725.0 379.0,715.5" />
<line class="l" x1="378" y1="712" x2="411" y2="695"/>
<line class="lg" x1="352" y1="711" x2="352" y2="720"/>
<text class="b" x="344.8" y="708.5" >19</text>
<polygon class="ft" points="507.6,496.0 520.0,488.0 545.0,475.0 556.6,470.9 559.0,474.0 565.4,475.3 578.4,509.0 576.2,512.3 529.4,537.4 520.7,538.4 506.5,503.6" />
<path class="o" d="M508,497 Q530,485 557,474" />
<path class="o" d="M509,500 Q532,487 558,477" />
<path d="M507.5,504.0 C519.5,502.0 527.5,495.0 536.8,490.0 S558.0,479.0 566.0,478.0" fill="none" stroke="#111" stroke-width="1.7"/>
<path d="M508.9,507.8 C521.0,505.8 529.0,498.8 538.1,493.7 S559.4,482.6 567.4,481.6" fill="none" stroke="#111" stroke-width="1.7"/>
<path d="M510.4,511.5 C522.4,509.5 530.4,502.5 539.5,497.4 S560.7,486.2 568.7,485.2" fill="none" stroke="#111" stroke-width="1.7"/>
<path d="M511.9,515.2 C523.9,513.2 531.9,506.2 541.0,501.0 S562.0,489.8 570.0,488.8" fill="none" stroke="#111" stroke-width="1.7"/>
<path d="M513.3,519.0 C525.3,517.0 533.3,510.0 542.3,504.7 S563.4,493.4 571.4,492.4" fill="none" stroke="#111" stroke-width="1.7"/>
<path d="M514.8,522.8 C526.8,520.8 534.8,513.8 543.8,508.4 S564.8,497.0 572.8,496.0" fill="none" stroke="#111" stroke-width="1.7"/>
<path d="M516.2,526.5 C528.2,524.5 536.2,517.5 545.2,512.0 S566.1,500.6 574.1,499.6" fill="none" stroke="#111" stroke-width="1.7"/>
<path d="M517.6,530.2 C529.6,528.2 537.6,521.2 546.5,515.7 S567.5,504.2 575.5,503.2" fill="none" stroke="#111" stroke-width="1.7"/>
<path d="M519.1,534.0 C531.1,532.0 539.1,525.0 548.0,519.4 S568.8,507.8 576.8,506.8" fill="none" stroke="#111" stroke-width="1.7"/>
<line class="lg" x1="528.4" y1="468.5" x2="528.4" y2="481.9"/>
<text class="b" x="520.2" y="465.4" >38</text>
<line class="o" x1="555.6" y1="526.1" x2="565.8" y2="546.7"/>
<polygon class="ft" points="525.6,594.3 537.0,576.0 542.4,566.0 560.0,560.0 654.0,554.0 663.4,578.0 673.0,602.0 675.4,618.2 601.1,609.1" />
<polyline class="o" points="527.0,591.0 601.0,603.0 673.0,612.0" />
<polygon class="f" points="538.0,556.0 544.0,553.0 556.0,551.0 562.0,560.0 545.0,566.0 538.0,565.0" />
<polyline class="o" points="540.0,556.0 540.0,546.0 543.0,544.0 545.0,554.0" />
<line class="o" x1="543" y1="544" x2="560" y2="537"/>
<polyline class="o" points="604.0,607.0 618.0,595.0 650.0,588.0 660.0,580.0 663.0,590.0" />
<polyline class="t" points="625.0,597.0 643.0,592.0" />
<polyline class="o" points="645.0,593.0 655.0,589.0 660.0,596.0 652.0,600.0 648.0,596.0" />
<line class="o" x1="640" y1="590" x2="672" y2="572"/>
<path d="M569,547 L569,574 A42,13 0 0 0 653,574 L653,547 Z" fill="#a9a9a9" stroke="#111" stroke-width="1.8"/>
<ellipse cx="611" cy="547" rx="42" ry="20" fill="#a9a9a9" stroke="#111" stroke-width="1.8"/>
<ellipse class="o" cx="611" cy="547" rx="36" ry="16" transform="rotate(0 611 547)" />
<ellipse class="o" cx="611" cy="548" rx="24" ry="10" transform="rotate(0 611 548)" />
<ellipse class="o" cx="611" cy="549" rx="17" ry="6.5" transform="rotate(0 611 549)" />
<line class="o" x1="636.0" y1="547.0" x2="646.0" y2="547.0"/>
<line class="o" x1="628.7" y1="554.4" x2="635.7" y2="558.0"/>
<line class="o" x1="611.0" y1="557.5" x2="611.0" y2="562.5"/>
<line class="o" x1="593.3" y1="554.4" x2="586.3" y2="558.0"/>
<line class="o" x1="586.0" y1="547.0" x2="576.0" y2="547.0"/>
<line class="o" x1="593.3" y1="539.6" x2="586.3" y2="536.0"/>
<line class="o" x1="611.0" y1="536.5" x2="611.0" y2="531.5"/>
<line class="o" x1="628.7" y1="539.6" x2="635.7" y2="536.0"/>
<rect x="569" y="562" width="6" height="12" fill="#a9a9a9" stroke="#111" stroke-width="1.1"/>
<rect x="587" y="562" width="6" height="12" fill="#a9a9a9" stroke="#111" stroke-width="1.1"/>
<rect x="608" y="560" width="6" height="12" fill="#a9a9a9" stroke="#111" stroke-width="1.1"/>
<rect x="629" y="562" width="6" height="12" fill="#a9a9a9" stroke="#111" stroke-width="1.1"/>
<rect x="647" y="562" width="6" height="12" fill="#a9a9a9" stroke="#111" stroke-width="1.1"/>
<line class="l" x1="611.1" y1="517.9" x2="611.1" y2="548.8"/>
<circle cx="611.1" cy="508.6" r="10.3" fill="#111"/>
<text class="cw" x="611.1" y="513.4">E</text>
<path d="M676.7,562.8 Q690,558 702,547.6 L709.3,551.2 Q714,556 715.1,562.1 Q717,572 718,581 L690.5,581 L677.4,573 Z" fill="#a9a9a9" stroke="#111" stroke-width="2.2" stroke-linejoin="round"/>
<polyline class="o" points="677.4,563.0 686.1,567.9 713.7,567.9" />
<polyline class="o" points="686.1,567.9 690.5,580.0" />
<path class="o" d="M709.3,551.2 Q716,562 713.7,567.9" />
<line class="lg" x1="686.2" y1="546.7" x2="686.2" y2="556"/>
<text class="b" x="679" y="543.6" >34</text>
<path d="M582.4,611.4 L571.6,612 Q566,618 568,624 Q570,632 578.8,638.4 Q585,642 589.6,642.6 L595.5,642 L606.3,643.7 L612.3,647.3 L621.9,646.7 L639.9,641.4 L651.9,647.3 L665.1,654 L672.3,649.1" fill="none" stroke="#111" stroke-width="4.4" stroke-linejoin="round" stroke-linecap="round"/>
<path d="M582.4,611.4 L571.6,612 Q566,618 568,624 Q570,632 578.8,638.4 Q585,642 589.6,642.6 L595.5,642 L606.3,643.7 L612.3,647.3 L621.9,646.7 L639.9,641.4 L651.9,647.3 L665.1,654 L672.3,649.1" fill="none" stroke="#a9a9a9" stroke-width="1.8" stroke-linejoin="round" stroke-linecap="round"/>
<path d="M650.7,621 L654.3,624 L650.7,632.4 L650.1,636 L665.1,645" fill="none" stroke="#111" stroke-width="4.4" stroke-linejoin="round" stroke-linecap="round"/>
<path d="M650.7,621 L654.3,624 L650.7,632.4 L650.1,636 L665.1,645" fill="none" stroke="#a9a9a9" stroke-width="1.8" stroke-linejoin="round" stroke-linecap="round"/>
<line x1="610.5" y1="616.8" x2="610.5" y2="630" stroke="#222" stroke-width="1.1"/>
<line x1="610.5" y1="654" x2="610.5" y2="712" stroke="#222" stroke-width="1.1"/>
<line class="lg" x1="677.8" y1="605.5" x2="699.4" y2="605.5"/>
<text class="b" x="701.8" y="610.3" >35</text>
<line class="lg" x1="658.6" y1="625.4" x2="699.4" y2="625.4"/>
<text class="b" x="701.8" y="630.2" >36</text>
<path d="M694.6,538.4 L730.6,538.4 L730.6,626 L719.8,626 M719.8,606.2 L730.6,606.2 M730.6,589 L755.7,589 L755.7,570" fill="none" stroke="#111" stroke-width="2.4"/>
<line class="br" x1="755.7" y1="580.3" x2="764" y2="580.3"/>
<text class="b" x="765.3" y="586.3" >835</text>
<circle cx="756.5" cy="559.2" r="10.3" fill="#111"/>
<text class="cw" x="756.5" y="564.0">X</text>
<path d="M634.6,666.1 C600,676 560,692 530.3,724.6 L514.2,744.1 C540,750 600,760 682,768.6 C681,740 672,712 654,689 Z" fill="#a9a9a9" stroke="#111" stroke-width="2.4" stroke-linejoin="round"/>
<path class="o" d="M514.2,744.1 L527,730.5 Q560,736 594.7,741.5 L672.7,752.5 L682,768.6" />
<path class="o" d="M654,689 Q665,700 672.7,752.5" />
<path d="M583,699 L583,721 A29,11 0 0 0 641,721 L641,699 Z" fill="#a9a9a9" stroke="#111" stroke-width="1.5"/>
<ellipse cx="612" cy="699" rx="29" ry="11" fill="#a9a9a9" stroke="#111" stroke-width="1.5"/>
<ellipse class="o" cx="612" cy="701" rx="24" ry="8.5" transform="rotate(0 612 701)" />
<rect x="584.5" y="700" width="5" height="9" fill="#a9a9a9" stroke="#111" stroke-width="1"/>
<rect x="597.5" y="697" width="5" height="9" fill="#a9a9a9" stroke="#111" stroke-width="1"/>
<rect x="621.5" y="697" width="5" height="9" fill="#a9a9a9" stroke="#111" stroke-width="1"/>
<rect x="634.5" y="700" width="5" height="9" fill="#a9a9a9" stroke="#111" stroke-width="1"/>
<line class="l" x1="610.5" y1="690" x2="610.5" y2="708"/>
<ellipse class="o" cx="608.3" cy="681.4" rx="3" ry="2" transform="rotate(0 608.3 681.4)" />
<ellipse class="o" cx="641.4" cy="686.4" rx="3.5" ry="2.2" transform="rotate(0 641.4 686.4)" />
<ellipse class="o" cx="551.5" cy="715.3" rx="3.5" ry="2.2" transform="rotate(0 551.5 715.3)" />
<ellipse class="o" cx="559.2" cy="733.9" rx="3.5" ry="2.2" transform="rotate(0 559.2 733.9)" />
<ellipse class="o" cx="663.4" cy="733" rx="3.5" ry="2.2" transform="rotate(0 663.4 733)" />
<ellipse class="o" cx="640.5" cy="745.8" rx="3.5" ry="2.2" transform="rotate(0 640.5 745.8)" />
<ellipse class="o" cx="566" cy="711" rx="8.5" ry="4.2" transform="rotate(25 566 711)" />
<ellipse class="o" cx="576.1" cy="732" rx="5.5" ry="7.5" transform="rotate(20 576.1 732)" />
<ellipse class="o" cx="627" cy="739" rx="5.5" ry="7.5" transform="rotate(20 627 739)" />
<ellipse class="o" cx="652.4" cy="726.3" rx="8.5" ry="4" transform="rotate(-10 652.4 726.3)" />
<ellipse class="o" cx="645.6" cy="694" rx="6" ry="3.5" transform="rotate(-10 645.6 694)" />
<line class="lg" x1="653.2" y1="684.7" x2="667.6" y2="684.7"/>
<text class="b" x="670.7" y="689.3" >37</text>
<circle cx="736.9" cy="699.1" r="24.8" fill="none" stroke="#111" stroke-width="1.3"/>
<polyline class="o" points="739.5,674.3 743.0,671.0 751.8,671.0 751.8,662.2 824.7,662.2" />
<polyline class="o" points="712.1,699.0 712.0,721.1 798.3,746.5 823.0,746.5" />
<circle cx="756.5" cy="724.9" r="3.3" fill="none" stroke="#111" stroke-width="1.2"/>
<circle cx="767.1" cy="729.8" r="3.3" fill="none" stroke="#111" stroke-width="1.2"/>
<path d="M708.8,737.2 L751.8,737.2 L755,728 M708.8,745.6 L750.9,745.6 L764,732.5" fill="none" stroke="#111" stroke-width="2"/>
<path d="M710,733 Q706,737 710,741 M710,741.5 Q706,745.5 710,749.5" fill="none" stroke="#111" stroke-width="1.5"/>
<rect x="802.7" y="644.7" width="38.7" height="8.7" fill="none" stroke="#111" stroke-width="1.3"/>
<rect x="802.7" y="756.2" width="38.7" height="8.7" fill="none" stroke="#111" stroke-width="1.3"/>
<path d="M802.7,648.2 L796.6,648.2 L796.6,670.1 M841.4,649 L847.2,649 L847.2,657.8 L821.2,657.8 L821.2,672.8 L824.7,672.8" fill="none" stroke="#111" stroke-width="1.8"/>
<path d="M796.6,740.4 L796.6,760.6 L802.7,760.6 M821.2,736 L821.2,751.8 L847.2,751.8 L847.2,760.6 L841.4,760.6" fill="none" stroke="#111" stroke-width="1.8"/>
<rect x="824.7" y="662.2" width="16.7" height="21.1" fill="none" stroke="#111" stroke-width="1.3"/>
<rect x="824.7" y="726.3" width="16.7" height="21.1" fill="none" stroke="#111" stroke-width="1.3"/>
<rect x="826.4" y="683.3" width="14.1" height="7" fill="#111"/>
<rect x="826.4" y="719.5" width="14.1" height="7" fill="#111"/>
<circle cx="833" cy="704.9" r="16.2" fill="#a9a9a9" stroke="#111" stroke-width="1.3"/>
<text x="833" y="710.5" style="font-weight:bold;font-size:15px;text-anchor:middle">M</text>
<path d="M824.7,683.3 L812.4,683.3 Q812.4,676.3 806,676.3 L795,676.3 Q788.7,676.3 788.7,683 L788.7,727 Q788.7,733.3 795,733.3 L806,733.3 Q812.4,733.3 812.4,726.3 L824.7,726.3" fill="none" stroke="#111" stroke-width="1.3"/>
<text x="784" y="657.8" style="font-weight:bold;font-size:10px">17</text>
<text x="849.6" y="760" style="font-weight:bold;font-size:10px">17</text>
<circle cx="862.5" cy="653.4" r="10.3" fill="#111"/>
<text class="cw" x="862.5" y="658.1999999999999">C</text>
<circle cx="781.7" cy="758.8" r="10.3" fill="#111"/>
<text class="cw" x="781.7" y="763.5999999999999">D</text>
</svg>
</body></html>
